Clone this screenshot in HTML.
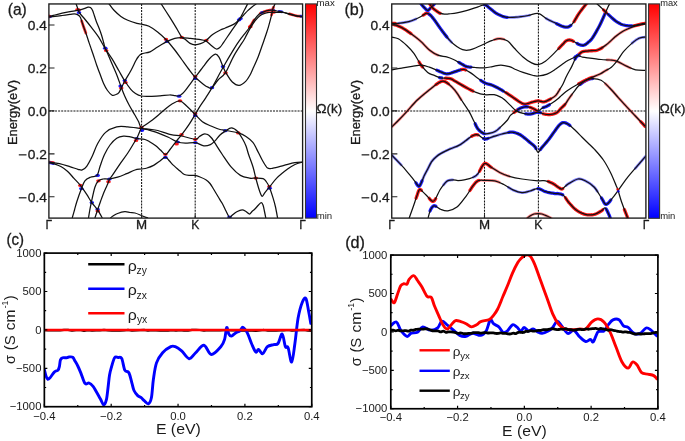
<!DOCTYPE html>
<html><head><meta charset="utf-8"><title>figure</title>
<style>
html,body{margin:0;padding:0;background:#fff;width:685px;height:441px;overflow:hidden}
svg{display:block;filter:blur(0.35px)}
text{font-family:"Liberation Sans",sans-serif;fill:#1a1a1a}
.bold text{stroke:#1a1a1a;stroke-width:0.3px}
</style></head><body>
<svg width="685" height="441" viewBox="0 0 685 441">
<rect x="0" y="0" width="685" height="441" fill="#fff"/>
<defs><clipPath id="ca"><rect x="48.9" y="3.95" width="253.70000000000002" height="214.15"/></clipPath>
<clipPath id="cb"><rect x="391.75" y="3.95" width="254.15" height="214.2"/></clipPath>
<clipPath id="cc"><rect x="44.35" y="253.1" width="267.4" height="153.6"/></clipPath>
<clipPath id="cd"><rect x="390.8" y="255.05" width="267.1" height="153.7"/></clipPath>
<linearGradient id="bwr" x1="0" y1="0" x2="0" y2="1"><stop offset="0" stop-color="#ff0000"/><stop offset="0.5" stop-color="#ffffff"/><stop offset="1" stop-color="#0000ff"/></linearGradient></defs>
<line x1="48.9" y1="110.9" x2="302.6" y2="110.9" stroke="#111" stroke-width="1.05" stroke-dasharray="2 1.07"/>
<line x1="141.6" y1="3.95" x2="141.6" y2="218.1" stroke="#111" stroke-width="1.05" stroke-dasharray="2 1.07"/>
<line x1="195.2" y1="3.95" x2="195.2" y2="218.1" stroke="#111" stroke-width="1.05" stroke-dasharray="2 1.07"/>
<g clip-path="url(#ca)" fill="none" stroke-linecap="round" stroke-linejoin="round">
<path d="M249.5 27.5 L250.12 26.57 L250.71 25.6 L251.3 24.62 L251.88 23.62 L252.46 22.64 L253.03 21.68 L253.61 20.76 L254.2 19.9" stroke="#ff1a1a" stroke-width="2.8" opacity="0.9"/>
<path d="M260.18 13.37 L260.77 13.05 L261.35 12.79 L261.93 12.55 L262.52 12.34 L263.11 12.13 L263.7 11.9 L264.3 11.67 L264.92 11.44 L265.54 11.23 L266.16 11.03 L266.77 10.84 L267.37 10.67 L267.95 10.52 L268.5 10.4 L269.02 10.3 L269.5 10.21 L269.96 10.15 L270.41 10.1 L270.85 10.07 L271.31 10.06" stroke="#ff1a1a" stroke-width="2.8" opacity="0.9"/>
<path d="M261.35 12.79 L261.93 12.55 L262.52 12.34" stroke="#1a1aff" stroke-width="2.8" opacity="0.9"/>
<path d="M271.79 10.07 L272.3 10.1 L272.84 10.15 L273.39 10.24 L273.95 10.35" stroke="#1a1aff" stroke-width="2.8" opacity="0.9"/>
<path d="M279.02 11.33 L279.73 11.44 L280.45 11.55 L281.19 11.68 L281.94 11.83" stroke="#1a1aff" stroke-width="2.8" opacity="0.9"/>
<path d="M289.3 13.9 L290.22 14.16 L291.18 14.43 L292.17 14.71 L293.17 14.99 L294.16 15.26 L295.12 15.51 L296.04 15.73 L296.9 15.9 L297.73 16.03 L298.55 16.12 L299.36 16.18 L300.12 16.23" stroke="#ff1a1a" stroke-width="2.8" opacity="0.9"/>
<path d="M300.83 16.25 L301.46 16.27 L301.99 16.28 L302.4 16.3" stroke="#1a1aff" stroke-width="2.8" opacity="0.9"/>
<path d="M272.2 12.3 L272.7 12.3 L273.27 12.29 L273.89 12.29 L274.55 12.28" stroke="#ff1a1a" stroke-width="2.8" opacity="0.9"/>
<path d="M271.54 15.07 L271.75 14.11 L271.92 13.22 L272.08 12.38 L272.23 11.6 L272.38 10.86 L272.53 10.16 L272.7 9.5 L272.89 8.88 L273.08 8.31 L273.28 7.8 L273.48 7.32" stroke="#ff1a1a" stroke-width="2.8" opacity="0.9"/>
<path d="M81.65 20.98 L81.87 21.69 L82.1 22.4 L82.35 23.12 L82.6 23.86 L82.86 24.63 L83.12 25.4 L83.39 26.18 L83.66 26.96 L83.93 27.74 L84.2 28.5 L84.47 29.25 L84.75 30 L85.02 30.74 L85.3 31.48 L85.58 32.22 L85.85 32.97" stroke="#ff1a1a" stroke-width="2.8" opacity="0.9"/>
<path d="M78.67 10.1 L79.51 9.9" stroke="#ff1a1a" stroke-width="2.8" opacity="0.9"/>
<path d="M49 162.1 L49.81 162.2 L50.88 162.33 L52.15 162.47 L53.57 162.64" stroke="#ff1a1a" stroke-width="2.8" opacity="0.9"/>
<path d="M49 162.6 L49.46 162.71 L50.07 162.84 L50.8 163 L51.61 163.18 L52.46 163.38 L53.34 163.61" stroke="#1a1aff" stroke-width="2.8" opacity="0.9"/>
</g>
<g clip-path="url(#ca)">
<ellipse cx="49.8" cy="16.6" rx="2.3" ry="1.6" fill="#00f" opacity="0.9"/>
<ellipse cx="48.8" cy="16.2" rx="2.3" ry="1.6" fill="#f00" opacity="0.9"/>
<ellipse cx="77.5" cy="9.6" rx="2.3" ry="1.6" fill="#f00" opacity="0.9"/>
<ellipse cx="79" cy="12.5" rx="2.3" ry="1.6" fill="#00f" opacity="0.9"/>
<ellipse cx="105.3" cy="48.2" rx="2.3" ry="1.6" fill="#00f" opacity="0.9"/>
<ellipse cx="106.2" cy="50.5" rx="2.3" ry="1.6" fill="#f00" opacity="0.9"/>
<ellipse cx="121.2" cy="88" rx="2.3" ry="1.6" fill="#f00" opacity="0.9"/>
<ellipse cx="120.6" cy="86" rx="2.3" ry="1.6" fill="#00f" opacity="0.9"/>
<ellipse cx="124.8" cy="80.6" rx="2.3" ry="1.6" fill="#00f" opacity="0.9"/>
<ellipse cx="125.5" cy="82.5" rx="2.3" ry="1.6" fill="#f00" opacity="0.9"/>
<ellipse cx="166" cy="39.3" rx="2.3" ry="1.6" fill="#f00" opacity="0.9"/>
<ellipse cx="167" cy="41.5" rx="2.3" ry="1.6" fill="#00f" opacity="0.9"/>
<ellipse cx="181.7" cy="37.4" rx="2.3" ry="1.6" fill="#f00" opacity="0.9"/>
<ellipse cx="206.3" cy="40.3" rx="2.3" ry="1.6" fill="#f00" opacity="0.9"/>
<ellipse cx="195.2" cy="76.6" rx="2.3" ry="1.6" fill="#f00" opacity="0.9"/>
<ellipse cx="195.2" cy="78.5" rx="2.3" ry="1.6" fill="#00f" opacity="0.9"/>
<ellipse cx="179.1" cy="96.2" rx="2.3" ry="1.6" fill="#00f" opacity="0.9"/>
<ellipse cx="180" cy="100.8" rx="2.3" ry="1.6" fill="#f00" opacity="0.9"/>
<ellipse cx="195.2" cy="113.8" rx="2.3" ry="1.6" fill="#f00" opacity="0.9"/>
<ellipse cx="195.2" cy="115.6" rx="2.3" ry="1.6" fill="#00f" opacity="0.9"/>
<ellipse cx="211.9" cy="87.7" rx="2.3" ry="1.6" fill="#00f" opacity="0.9"/>
<ellipse cx="223" cy="66.6" rx="2.3" ry="1.6" fill="#00f" opacity="0.9"/>
<ellipse cx="225.5" cy="72.8" rx="2.3" ry="1.6" fill="#f00" opacity="0.9"/>
<ellipse cx="239.1" cy="19.8" rx="2.3" ry="1.6" fill="#00f" opacity="0.9"/>
<ellipse cx="250.3" cy="26.7" rx="2.3" ry="1.6" fill="#f00" opacity="0.9"/>
<ellipse cx="141.4" cy="127.6" rx="2.3" ry="1.6" fill="#f00" opacity="0.9"/>
<ellipse cx="142" cy="130.3" rx="2.3" ry="1.6" fill="#00f" opacity="0.9"/>
<ellipse cx="136.8" cy="138.5" rx="2.3" ry="1.6" fill="#00f" opacity="0.9"/>
<ellipse cx="136" cy="140.5" rx="2.3" ry="1.6" fill="#f00" opacity="0.9"/>
<ellipse cx="165.4" cy="154.3" rx="2.3" ry="1.6" fill="#f00" opacity="0.9"/>
<ellipse cx="165.4" cy="157.4" rx="2.3" ry="1.6" fill="#00f" opacity="0.9"/>
<ellipse cx="177.6" cy="142" rx="2.3" ry="1.6" fill="#00f" opacity="0.9"/>
<ellipse cx="181.5" cy="134.7" rx="2.3" ry="1.6" fill="#f00" opacity="0.9"/>
<ellipse cx="176.6" cy="144" rx="2.3" ry="1.6" fill="#f00" opacity="0.9"/>
<ellipse cx="195.3" cy="139.3" rx="2.3" ry="1.6" fill="#f00" opacity="0.9"/>
<ellipse cx="195.3" cy="142.6" rx="2.3" ry="1.6" fill="#00f" opacity="0.9"/>
<ellipse cx="225.3" cy="130.7" rx="2.3" ry="1.6" fill="#00f" opacity="0.9"/>
<ellipse cx="238.3" cy="132.9" rx="2.3" ry="1.6" fill="#f00" opacity="0.9"/>
<ellipse cx="255.8" cy="178.1" rx="2.3" ry="1.6" fill="#f00" opacity="0.9"/>
<ellipse cx="269.4" cy="186.5" rx="2.3" ry="1.6" fill="#f00" opacity="0.9"/>
<ellipse cx="269.6" cy="188.2" rx="2.3" ry="1.6" fill="#00f" opacity="0.9"/>
<ellipse cx="80.4" cy="185.4" rx="2.3" ry="1.6" fill="#f00" opacity="0.9"/>
<ellipse cx="81.3" cy="188.6" rx="2.3" ry="1.6" fill="#00f" opacity="0.9"/>
<ellipse cx="91.8" cy="202.6" rx="2.3" ry="1.6" fill="#00f" opacity="0.9"/>
<ellipse cx="97.6" cy="209.3" rx="2.3" ry="1.6" fill="#00f" opacity="0.9"/>
<ellipse cx="97.8" cy="211" rx="2.3" ry="1.6" fill="#f00" opacity="0.9"/>
<ellipse cx="97.6" cy="175.4" rx="2.3" ry="1.6" fill="#00f" opacity="0.9"/>
<ellipse cx="98.5" cy="180.8" rx="2.3" ry="1.6" fill="#f00" opacity="0.9"/>
<ellipse cx="108.5" cy="181.7" rx="2.3" ry="1.6" fill="#f00" opacity="0.9"/>
<ellipse cx="109.4" cy="179" rx="2.3" ry="1.6" fill="#00f" opacity="0.9"/>
<ellipse cx="229.5" cy="217" rx="2.3" ry="1.6" fill="#00f" opacity="0.9"/>
<ellipse cx="240.5" cy="18.5" rx="2.3" ry="1.6" fill="#00f" opacity="0.9"/>
</g>
<g clip-path="url(#ca)" fill="none" stroke="#111" stroke-width="1.25" stroke-linejoin="round">
<path d="M49 16.6C50 16.33 52.8 15.57 55 15C57.2 14.43 59.7 13.77 62.2 13.2C64.7 12.63 67.4 12.08 70 11.6C72.6 11.12 75.47 10.8 77.8 10.3C80.13 9.8 82.28 9.12 84 8.6C85.72 8.08 87.03 7.37 88.1 7.2C89.17 7.03 89.65 7.05 90.4 7.6C91.15 8.15 91.95 9.18 92.6 10.5C93.25 11.82 93.65 13.58 94.3 15.5C94.95 17.42 95.72 19.92 96.5 22C97.28 24.08 98.17 25.83 99 28C99.83 30.17 100.73 32.58 101.5 35C102.27 37.42 102.97 40.22 103.6 42.5C104.23 44.78 104.63 46.87 105.3 48.7C105.97 50.53 106.47 50.95 107.6 53.5C108.73 56.05 110.5 60.27 112.1 64C113.7 67.73 115.65 71.93 117.2 75.9C118.75 79.87 120.13 84.4 121.4 87.8C122.67 91.2 123.52 93.43 124.8 96.3C126.08 99.17 127.45 101.92 129.1 105C130.75 108.08 133.13 112.05 134.7 114.8C136.27 117.55 137.38 119.32 138.5 121.5C139.62 123.68 139.65 126.47 141.4 127.9C143.15 129.33 146.27 129.28 149 130.1C151.73 130.92 154.57 131.6 157.8 132.8C161.03 134 165.1 135.77 168.4 137.3C171.7 138.83 174.77 141.02 177.6 142C180.43 142.98 182.45 143.1 185.4 143.2C188.35 143.3 192.23 142.15 195.3 142.6C198.37 143.05 201.28 145.57 203.8 145.9C206.32 146.23 208.53 145.43 210.4 144.6C212.27 143.77 213.4 142.5 215 140.9C216.6 139.3 218.28 136.62 220 135C221.72 133.38 223.4 132.4 225.3 131.2C227.2 130 229.38 127.8 231.4 127.8C233.42 127.8 235.53 129.33 237.4 131.2C239.27 133.07 241.17 136.53 242.6 139C244.03 141.47 245 143.42 246 146C247 148.58 247.42 150.97 248.6 154.5C249.78 158.03 251.9 163.27 253.1 167.2C254.3 171.13 254.73 174.17 255.8 178.1C256.87 182.03 258.43 187.77 259.5 190.8C260.57 193.83 261.3 196 262.2 196.3C263.1 196.6 263.7 194.12 264.9 192.6C266.1 191.08 267.43 189.62 269.4 187.2C271.37 184.78 273.67 181.13 276.7 178.1C279.73 175.07 284.55 171.27 287.6 169C290.65 166.73 292.5 165.65 295 164.5C297.5 163.35 301.33 162.5 302.6 162.1"/>
<path d="M49 16.9C50 16.82 52.8 16.63 55 16.4C57.2 16.17 59.7 15.83 62.2 15.5C64.7 15.17 67.98 14.68 70 14.4C72.02 14.12 73.05 13.77 74.3 13.8C75.55 13.83 76.5 14.03 77.5 14.6C78.5 15.17 79.53 15.9 80.3 17.2C81.07 18.5 81.45 20.52 82.1 22.4C82.75 24.28 83.48 26.48 84.2 28.5C84.92 30.52 85.68 32.42 86.4 34.5C87.12 36.58 87.78 38.85 88.5 41C89.22 43.15 89.95 45.23 90.7 47.4C91.45 49.57 91.98 50.98 93 54C94.02 57.02 95.63 62.17 96.8 65.5C97.97 68.83 98.87 71 100 74C101.13 77 102.35 80.75 103.6 83.5C104.85 86.25 106.08 88.55 107.5 90.5C108.92 92.45 110.68 94.53 112.1 95.2C113.52 95.87 114.87 94.93 116 94.5C117.13 94.07 118 93.72 118.9 92.6C119.8 91.48 120.42 89.73 121.4 87.8C122.38 85.87 123.23 83.83 124.8 81C126.37 78.17 128.95 74.22 130.8 70.8C132.65 67.38 134.62 62.88 135.9 60.5C137.18 58.12 137.57 57.62 138.5 56.5C139.43 55.38 139.58 54.58 141.5 53.8C143.42 53.02 147.32 52.93 150 51.8C152.68 50.67 154.75 48.73 157.6 47C160.45 45.27 164.23 42.85 167.1 41.4C169.97 39.95 172.37 38.93 174.8 38.3C177.23 37.67 179.12 37.58 181.7 37.6C184.28 37.62 187.42 38.1 190.3 38.4C193.18 38.7 196.4 38.97 199 39.4C201.6 39.83 203.9 40.03 205.9 41C207.9 41.97 209.27 43.87 211 45.2C212.73 46.53 214.8 48.65 216.3 49C217.8 49.35 218.8 48.37 220 47.3C221.2 46.23 221.7 45.18 223.5 42.6C225.3 40.02 228.2 35.6 230.8 31.8C233.4 28 236.85 23.38 239.1 19.8C241.35 16.22 242.85 13 244.3 10.3C245.75 7.6 247.22 4.72 247.8 3.6"/>
<path d="M76 3.6C76.3 4.43 77.22 7.05 77.8 8.6C78.38 10.15 78.35 11.17 79.5 12.9C80.65 14.63 82.68 16.55 84.7 19C86.72 21.45 89.3 24.63 91.6 27.6C93.9 30.57 96.22 33.28 98.5 36.8C100.78 40.32 103.03 45.02 105.3 48.7C107.57 52.38 109.83 55.22 112.1 58.9C114.37 62.58 116.78 67.12 118.9 70.8C121.02 74.48 122.82 77.92 124.8 81C126.78 84.08 129.02 87.22 130.8 89.3C132.58 91.38 133.75 92.38 135.5 93.5C137.25 94.62 138.88 95.53 141.3 96C143.72 96.47 146.88 96.33 150 96.3C153.12 96.27 156.72 96.02 160 95.8C163.28 95.58 167.2 95.03 169.7 95C172.2 94.97 173.43 95.45 175 95.6C176.57 95.75 177.85 96.25 179.1 95.9C180.35 95.55 181.48 94.37 182.5 93.5C183.52 92.63 183.9 92.32 185.2 90.7C186.5 89.08 188.63 86.05 190.3 83.8C191.97 81.55 193.47 79.5 195.2 77.2C196.93 74.9 199.3 71.83 200.7 70C202.1 68.17 202.22 68 203.6 66.2C204.98 64.4 207.05 61.2 209 59.2C210.95 57.2 213.63 54.53 215.3 54.2C216.97 53.87 217.72 55.13 219 57.2C220.28 59.27 221.78 63.9 223 66.6C224.22 69.3 224.75 70.83 226.3 73.4C227.85 75.97 230.17 80 232.3 82C234.43 84 236.83 85.55 239.1 85.4C241.37 85.25 244.08 82.83 245.9 81.1C247.72 79.37 248.87 76.98 250 75C251.13 73.02 251.35 72.22 252.7 69.2C254.05 66.18 256.55 60.77 258.1 56.9C259.65 53.03 260.98 48.85 262 46C263.02 43.15 263.45 41.97 264.2 39.8C264.95 37.63 265.78 35.2 266.5 33C267.22 30.8 267.7 29.42 268.5 26.6C269.3 23.78 270.6 18.95 271.3 16.1C272 13.25 272.22 11.23 272.7 9.5C273.18 7.77 273.8 6.68 274.2 5.7C274.6 4.72 274.95 3.95 275.1 3.6"/>
<path d="M108.8 3.6C109.67 4.72 111.98 8.17 114 10.3C116.02 12.43 118.6 14.73 120.9 16.4C123.2 18.07 125.13 19.13 127.8 20.3C130.47 21.47 134.58 22.75 136.9 23.4C139.22 24.05 139.68 23.73 141.7 24.2C143.72 24.67 146.35 24.92 149 26.2C151.65 27.48 154.73 29.65 157.6 31.9C160.47 34.15 163.33 36.68 166.2 39.7C169.07 42.72 172.22 46.7 174.8 50C177.38 53.3 179.4 56.33 181.7 59.5C184 62.67 186.35 66.05 188.6 69C190.85 71.95 192.7 74.63 195.2 77.2C197.7 79.77 201.47 82.73 203.6 84.4C205.73 86.07 206.62 86.62 208 87.2C209.38 87.78 210.23 89.1 211.9 87.9C213.57 86.7 215.73 82.55 218 80C220.27 77.45 222.83 76.67 225.5 72.6C228.17 68.53 230.88 61.12 234 55.6C237.12 50.08 242.25 42.67 244.2 39.5C246.15 36.33 244.67 38.53 245.7 36.6C246.73 34.67 248.82 30.57 250.4 27.9C251.98 25.23 253.62 22.63 255.2 20.6C256.78 18.57 258.32 16.92 259.9 15.7C261.48 14.48 263.12 13.85 264.7 13.3C266.28 12.75 268.07 12.57 269.4 12.4C270.73 12.23 271.27 12.32 272.7 12.3C274.13 12.28 276.28 12.27 278 12.3C279.72 12.33 281.12 12.18 283 12.5C284.88 12.82 286.98 13.6 289.3 14.2C291.62 14.8 294.72 15.7 296.9 16.1C299.08 16.5 301.48 16.52 302.4 16.6"/>
<path d="M72.2 218C72.58 216.67 73.73 212.72 74.5 210C75.27 207.28 75.67 205.2 76.8 201.7C77.93 198.2 79.95 192.48 81.3 189C82.65 185.52 83.38 182.77 84.9 180.8C86.42 178.83 88.63 177.97 90.4 177.2C92.17 176.43 94.3 176.65 95.5 176.2C96.7 175.75 96.78 176.32 97.6 174.5C98.42 172.68 99.25 168.63 100.4 165.3C101.55 161.97 102.9 157.88 104.5 154.5C106.1 151.12 107.97 147.72 110 145C112.03 142.28 114.45 139.68 116.7 138.2C118.95 136.72 121.23 136.33 123.5 136.1C125.77 135.87 128.15 136.42 130.3 136.8C132.45 137.18 133.95 137.95 136.4 138.4C138.85 138.85 142.73 138.9 145 139.5C147.27 140.1 148.27 140.98 150 142C151.73 143.02 153.65 144.27 155.4 145.6C157.15 146.93 158.83 148.52 160.5 150C162.17 151.48 163.82 154.58 165.4 154.5C166.98 154.42 168.48 151.32 170 149.5C171.52 147.68 173.15 145.35 174.5 143.6C175.85 141.85 176.9 140.48 178.1 139C179.3 137.52 179.95 137 181.7 134.7C183.45 132.4 186.35 128.57 188.6 125.2C190.85 121.83 193.47 117.38 195.2 114.5C196.93 111.62 197.22 110.72 199 107.9C200.78 105.08 203.75 100.93 205.9 97.6C208.05 94.27 209.05 92.92 211.9 87.9C214.75 82.88 219.32 74.02 223 67.5C226.68 60.98 231.17 53.42 234 48.8C236.83 44.18 238.3 42.2 240 39.8C241.7 37.4 242.62 36.45 244.2 34.4C245.78 32.35 247.83 29.92 249.5 27.5C251.17 25.08 252.62 22.12 254.2 19.9C255.78 17.68 257.42 15.53 259 14.2C260.58 12.87 262.12 12.53 263.7 11.9C265.28 11.27 267.07 10.7 268.5 10.4C269.93 10.1 270.88 10 272.3 10.1C273.72 10.2 275.27 10.68 277 11C278.73 11.32 280.65 11.52 282.7 12C284.75 12.48 286.93 13.25 289.3 13.9C291.67 14.55 294.72 15.5 296.9 15.9C299.08 16.3 301.48 16.23 302.4 16.3"/>
<path d="M161 3.6C162.45 5.87 167.1 13.07 169.7 17.2C172.3 21.33 174.6 25.08 176.6 28.4C178.6 31.72 180.25 35.27 181.7 37.1C183.15 38.93 183.9 38.35 185.3 39.4C186.7 40.45 188.48 42.5 190.1 43.4C191.72 44.3 193.25 44.75 195 44.8C196.75 44.85 198.73 44.43 200.6 43.7C202.47 42.97 204.2 41.93 206.2 40.4C208.2 38.87 210.23 36.23 212.6 34.5C214.97 32.77 218.28 31.08 220.4 30C222.52 28.92 223.03 28.98 225.3 28C227.57 27.02 231.7 25.47 234 24.1C236.3 22.73 237.52 21.28 239.1 19.8C240.68 18.32 242.05 16.73 243.5 15.2C244.95 13.67 246.38 11.97 247.8 10.6C249.22 9.23 250.53 8.17 252 7C253.47 5.83 255.83 4.17 256.6 3.6"/>
<path d="M94.9 218C95.35 216.65 96.67 212.65 97.6 209.9C98.53 207.15 99.58 204.08 100.5 201.5C101.42 198.92 101.98 197.15 103.1 194.4C104.22 191.65 106.12 187.53 107.2 185C108.28 182.47 108.55 181.08 109.6 179.2C110.65 177.32 111.78 176.22 113.5 173.7C115.22 171.18 117.52 167.55 119.9 164.1C122.28 160.65 125.43 156.57 127.8 153C130.17 149.43 132.52 145.33 134.1 142.7C135.68 140.07 136.08 139.62 137.3 137.2C138.52 134.78 139.95 130.32 141.4 128.2C142.85 126.08 144.17 125.87 146 124.5C147.83 123.13 150.32 121.58 152.4 120C154.48 118.42 156.48 116.72 158.5 115C160.52 113.28 162.25 111.53 164.5 109.7C166.75 107.87 169.42 105.45 172 104C174.58 102.55 177.52 100.63 180 101C182.48 101.37 184.37 103.95 186.9 106.2C189.43 108.45 192.62 111.92 195.2 114.5C197.78 117.08 199.77 119.78 202.4 121.7C205.03 123.62 208.07 124.7 211 126C213.93 127.3 217.62 128.78 220 129.5C222.38 130.22 222.25 129.73 225.3 130.3C228.35 130.87 234.85 131.88 238.3 132.9C241.75 133.92 243.57 134.82 246 136.4C248.43 137.98 251.12 140.28 252.9 142.4C254.68 144.52 255.15 146.17 256.7 149.1C258.25 152.03 260.38 156.83 262.2 160C264.02 163.17 265.78 166.75 267.6 168.1C269.42 169.45 270.37 168.55 273.1 168.1C275.83 167.65 280.38 166.3 284 165.4C287.62 164.5 291.7 163.25 294.8 162.7C297.9 162.15 301.3 162.2 302.6 162.1"/>
<path d="M49 162.1C50.75 162.35 55.93 162.8 59.5 163.6C63.07 164.4 67.32 165.95 70.4 166.9C73.48 167.85 76.03 168.8 78 169.3C79.97 169.8 80.75 170.4 82.2 169.9C83.65 169.4 85.03 168.57 86.7 166.3C88.37 164.03 90.37 160.1 92.2 156.3C94.03 152.5 95.47 147.48 97.7 143.5C99.93 139.52 102.43 135.17 105.6 132.4C108.77 129.63 113 127.82 116.7 126.9C120.4 125.98 123.7 126.63 127.8 126.9C131.9 127.17 137.6 128.1 141.3 128.5C145 128.9 147.25 128.97 150 129.3C152.75 129.63 154.3 129.6 157.8 130.5C161.3 131.4 167.05 133.78 171 134.7C174.95 135.62 177.45 135.23 181.5 136C185.55 136.77 192.3 139.22 195.3 139.3C198.3 139.38 198.08 137.37 199.5 136.5C200.92 135.63 202.55 134.47 203.8 134.1C205.05 133.73 206.12 134.08 207 134.3C207.88 134.52 208.27 134.7 209.1 135.4C209.93 136.1 211.02 137.2 212 138.5C212.98 139.8 213.28 140.53 215 143.2C216.72 145.87 219.58 150.5 222.3 154.5C225.02 158.5 228.28 163.72 231.3 167.2C234.32 170.68 237.37 173.58 240.4 175.4C243.43 177.22 246.93 177.65 249.5 178.1C252.07 178.55 253.53 178.02 255.8 178.1C258.07 178.18 261.32 177.95 263.1 178.6C264.88 179.25 265.45 180.57 266.5 182C267.55 183.43 268.3 184.52 269.4 187.2C270.5 189.88 272.08 194.8 273.1 198.1C274.12 201.4 274.75 203.68 275.5 207C276.25 210.32 277.25 216.17 277.6 218"/>
<path d="M49 162.6C50 162.85 52.95 163.4 55 164.1C57.05 164.8 59.18 165.57 61.3 166.8C63.42 168.03 65.58 169.57 67.7 171.5C69.82 173.43 71.88 176.08 74 178.4C76.12 180.72 78.28 182.73 80.4 185.4C82.52 188.07 84.8 191.53 86.7 194.4C88.6 197.27 89.98 200.02 91.8 202.6C93.62 205.18 96.02 207.63 97.6 209.9C99.18 212.17 100.52 214.85 101.3 216.2C102.08 217.55 102.13 217.7 102.3 218"/>
<path d="M88.5 218C88.72 216.67 89.33 212.57 89.8 210C90.27 207.43 90.45 206.4 91.3 202.6C92.15 198.8 93.7 190.83 94.9 187.2C96.1 183.57 97.13 182.17 98.5 180.8C99.87 179.43 101.28 179.3 103.1 179C104.92 178.7 106.98 179.3 109.4 179C111.82 178.7 114.72 178.1 117.6 177.2C120.48 176.3 123.8 174.8 126.7 173.6C129.6 172.4 132.55 170.77 135 170C137.45 169.23 139.4 169.33 141.4 169C143.4 168.67 144.97 168.6 147 168C149.03 167.4 151.43 166.57 153.6 165.4C155.77 164.23 158.03 162.37 160 161C161.97 159.63 163.82 157.2 165.4 157.2C166.98 157.2 168.15 159.63 169.5 161C170.85 162.37 171.75 163.73 173.5 165.4C175.25 167.07 178.18 169.48 180 171C181.82 172.52 182.73 173.77 184.4 174.5C186.07 175.23 188.23 175.25 190 175.4C191.77 175.55 193.33 175.13 195 175.4C196.67 175.67 198.13 176.25 200 177C201.87 177.75 204.53 178.82 206.2 179.9C207.87 180.98 208.78 181.98 210 183.5C211.22 185.02 212.17 186.83 213.5 189C214.83 191.17 216.92 194.68 218 196.5C219.08 198.32 219.28 198.73 220 199.9C220.72 201.07 221.3 201.65 222.3 203.5C223.3 205.35 224.8 208.58 226 211C227.2 213.42 228.92 216.83 229.5 218"/>
<path d="M110.3 218C110.75 217.67 111.78 216.75 113 216C114.22 215.25 115.63 214.22 117.6 213.5C119.57 212.78 122.73 211.87 124.8 211.7C126.87 211.53 128.3 212.28 130 212.5C131.7 212.72 133.1 212.5 135 213C136.9 213.5 139.57 214.77 141.4 215.5C143.23 216.23 144.88 216.98 146 217.4C147.12 217.82 147.75 217.9 148.1 218"/>
<path d="M229.5 218C230.08 217.42 231.78 215.55 233 214.5C234.22 213.45 235.27 212.47 236.8 211.7C238.33 210.93 240.67 209.93 242.2 209.9C243.73 209.87 244.78 210.82 246 211.5C247.22 212.18 248.5 214 249.5 214C250.5 214 251.1 212.33 252 211.5C252.9 210.67 253.82 210.08 254.9 209C255.98 207.92 257.43 206.07 258.5 205C259.57 203.93 260.53 202.55 261.3 202.6C262.07 202.65 262.55 203.73 263.1 205.3C263.65 206.87 264.15 209.88 264.6 212C265.05 214.12 265.6 217 265.8 218"/>
</g>
<rect x="48.9" y="3.95" width="253.70000000000002" height="214.15" fill="none" stroke="#1a1a1a" stroke-width="1.35"/>
<path d="M48.9 25 h5.6 M48.9 67.95 h5.6 M48.9 110.9 h5.6 M48.9 153.85 h5.6 M48.9 196.8 h5.6 M141.6 218.1 v-3.5 M195.2 218.1 v-3.5" stroke="#222" stroke-width="1.1" fill="none"/>
<rect x="305.5" y="3.9" width="11" height="214.2" fill="url(#bwr)" stroke="#333" stroke-width="1.1"/>
<line x1="391.75" y1="110.9" x2="645.9" y2="110.9" stroke="#111" stroke-width="1.05" stroke-dasharray="2 1.07"/>
<line x1="484.5" y1="3.95" x2="484.5" y2="218.1" stroke="#111" stroke-width="1.05" stroke-dasharray="2 1.07"/>
<line x1="538.4" y1="3.95" x2="538.4" y2="218.1" stroke="#111" stroke-width="1.05" stroke-dasharray="2 1.07"/>
<g clip-path="url(#cb)" fill="none" stroke-linecap="round" stroke-linejoin="round">
<path d="M391.8 23.3 L392.27 23.31 L392.88 23.34 L393.59 23.37 L394.4 23.41 L395.29 23.42" stroke="#ff1a1a" stroke-width="3.3"/>
<path d="M398.3 23.3 L399.43 23.18 L400.7 23.02 L402.05 22.83 L403.45 22.61 L404.86 22.38 L406.23 22.13 L407.52 21.87 L408.7 21.6 L409.78 21.32 L410.8 21.01 L411.77 20.69 L412.69 20.35 L413.57 20.01 L414.41 19.66 L415.22 19.33 L416 19" stroke="#1a1aff" stroke-width="2.7" opacity="0.55"/>
<path d="M423.3 15.03 L423.64 14.81 L424 14.6 L424.36 14.37 L424.72 14.11 L425.06 13.85 L425.41 13.59 L425.77 13.37 L426.13 13.21 L426.5 13.11 L426.9 13.1 L427.32 13.18 L427.75 13.34 L428.19 13.56 L428.65 13.83" stroke="#ff1a1a" stroke-width="3.3"/>
<path d="M429.11 14.15 L429.58 14.51 L430.04 14.89 L430.5 15.3 L430.96 15.74 L431.42 16.23 L431.88 16.76 L432.35 17.32 L432.82 17.9 L433.28 18.5 L433.74 19.1 L434.2 19.7 L434.65 20.3 L435.1 20.92 L435.55 21.56 L436 22.2 L436.45 22.85 L436.9 23.5 L437.35 24.15 L437.8 24.8 L438.26 25.45 L438.72 26.11 L439.19 26.77 L439.66 27.44 L440.13 28.1 L440.59 28.75 L441.05 29.38 L441.5 30 L441.93 30.59 L442.35 31.16 L442.77 31.72 L443.18 32.26 L443.59 32.81 L444.01 33.36 L444.44 33.92 L444.9 34.5 L445.38 35.1 L445.87 35.73 L446.37 36.36 L446.88 37" stroke="#1a1aff" stroke-width="3.3"/>
<path d="M446.37 36.36 L446.88 37 L447.4 37.64 L447.93 38.27 L448.46 38.9 L449 39.5 L449.53 40.09 L450.05 40.66 L450.57 41.22 L451.1 41.78 L451.65 42.33" stroke="#1a1aff" stroke-width="2.7" opacity="0.55"/>
<path d="M494.3 39.66 L495.25 39.35 L496.2 39.08 L497.15 38.86 L498.1 38.69 L499.05 38.6 L500 38.6 L500.96 38.68 L501.94 38.82 L502.92 39.02 L503.91 39.29" stroke="#ff1a1a" stroke-width="2.7" opacity="0.55"/>
<path d="M558.85 48.4 L560.05 47.13 L561.16 45.94 L562.16 44.88 L563 44 L563.65 43.31 L564.15 42.75 L564.52 42.32 L564.81 41.98 L565.06 41.7 L565.31 41.46 L565.61 41.24 L566 41 L566.45 40.76 L566.92 40.53 L567.41 40.34 L567.92 40.17 L568.44 40.05 L568.98 39.98 L569.53 39.96 L570.1 40 L570.7 40.12 L571.34 40.32 L572 40.59 L572.67 40.89 L573.34 41.23" stroke="#ff1a1a" stroke-width="3.3"/>
<path d="M577.11 43.44 L577.55 43.75 L578 44.04 L578.48 44.29 L579 44.5 L579.57 44.69 L580.17 44.87 L580.79 45.03 L581.43 45.16 L582.07 45.26 L582.71 45.3 L583.32 45.29 L583.9 45.2 L584.45 45.04 L584.97 44.81 L585.48 44.52 L585.97 44.18 L586.47 43.8 L586.97 43.39 L587.47 42.95 L588 42.5 L588.53 42.07 L589.04 41.66 L589.55 41.24 L590.08 40.78 L590.62 40.25 L591.2 39.61 L591.82 38.84 L592.5 37.9 L593.26 36.75 L594.1 35.4 L594.99 33.91 L595.91 32.31 L596.83 30.67 L597.74 29.02 L598.6 27.41 L599.4 25.9 L600.14 24.44 L600.86 22.96 L601.55 21.49 L602.22 20.04 L602.86 18.62 L603.47 17.24 L604.05 15.93 L604.6 14.7 L605.12 13.53 L605.62 12.4" stroke="#1a1aff" stroke-width="3.3"/>
<path d="M391.8 23.8 L392.57 24.07 L393.59 24.41 L394.8 24.81 L396.16 25.27 L397.59 25.78 L399.04 26.34 L400.47 26.95 L401.8 27.6 L403.08 28.31 L404.39 29.11 L405.71 29.96 L407.03 30.86 L408.34 31.78 L409.63 32.7 L410.89 33.62" stroke="#ff1a1a" stroke-width="3.3"/>
<path d="M412.1 34.5 L413.26 35.35 L414.39 36.19 L415.48 37.01 L416.56 37.84 L417.62 38.69 L418.67 39.56 L419.73 40.46 L420.8 41.4 L421.88 42.42 L422.96 43.51 L424.03 44.65 L425.11 45.81 L426.18 46.95 L427.25 48.05 L428.33 49.08 L429.4 50 L430.47 50.84 L431.55 51.62 L432.62 52.35 L433.7 53.03 L434.77 53.66 L435.85 54.23 L436.93 54.74 L438 55.2" stroke="#ff1a1a" stroke-width="2.7" opacity="0.55"/>
<path d="M458.86 62.44 L459.92 63.05 L460.91 63.61 L461.8 64.1 L462.57 64.52 L463.22 64.91 L463.8 65.26 L464.34 65.58 L464.88 65.87 L465.46 66.14 L466.12 66.38 L466.9 66.6 L467.79 66.79 L468.77 66.95 L469.8 67.08 L470.89 67.19" stroke="#1a1aff" stroke-width="3.3"/>
<path d="M575.02 57.06 L576.07 56.53 L577 56 L577.8 55.46 L578.49 54.89" stroke="#1a1aff" stroke-width="3.3"/>
<path d="M579.1 54.31 L579.66 53.74 L580.21 53.2 L580.78 52.7 L581.4 52.26 L582.1 51.9 L582.86 51.63 L583.66 51.43 L584.48 51.29 L585.33 51.2 L586.2 51.13 L587.11 51.07 L588.04 51 L589 50.9 L590 50.81 L591.05 50.77 L592.14 50.74 L593.24 50.71 L594.37 50.65 L595.49 50.52 L596.6 50.32 L597.7 50 L598.78 49.57 L599.86 49.06 L600.93 48.47 L602.01 47.82" stroke="#ff1a1a" stroke-width="3.3"/>
<path d="M603.08 47.12 L604.15 46.38 L605.23 45.6 L606.3 44.8 L607.39 43.94 L608.51 42.98 L609.63 41.96 L610.76 40.91 L611.86 39.87 L612.93 38.87 L613.94 37.93 L614.9 37.1 L615.78 36.37 L616.6 35.7 L617.38 35.09 L618.11 34.52 L618.83 33.99 L619.54 33.48 L620.26 32.99 L621 32.5 L621.74 32.03 L622.45 31.61 L623.14 31.21 L623.84 30.83 L624.56 30.45 L625.32 30.08 L626.13 29.7 L627 29.3 L627.94 28.87 L628.95 28.43 L630 27.97 L631.08 27.51 L632.19 27.07 L633.33 26.64 L634.46 26.25 L635.6 25.9 L636.81 25.59 L638.13 25.3 L639.51 25.03" stroke="#ff1a1a" stroke-width="2.7" opacity="0.55"/>
<path d="M421.1 4 L421.32 4.26 L421.6 4.6 L421.94 5 L422.32 5.46 L422.73 5.93 L423.16 6.41 L423.58 6.87 L424 7.3 L424.42 7.73 L424.87 8.22 L425.33 8.72 L425.8 9.21 L426.27 9.65 L426.73 10.02 L427.18 10.28 L427.6 10.4 L427.99 10.37 L428.36 10.22 L428.7 9.96 L429.04 9.63 L429.38 9.24 L429.74 8.83 L430.1 8.4 L430.5 8 L430.95 7.57 L431.46 7.06 L431.99 6.51 L432.53 5.95 L433.05 5.41 L433.52 4.92 L433.91 4.5 L434.2 4.2" stroke="#1a1aff" stroke-width="3.3"/>
<path d="M429.8 4 L430.02 4.32 L430.3 4.74 L430.64 5.26 L431.02 5.82 L431.43 6.4 L431.85 6.98 L432.28 7.53 L432.7 8 L433.12 8.42 L433.57 8.82 L434.03 9.19 L434.51 9.56 L434.98 9.9 L435.46 10.24 L435.94 10.57 L436.4 10.9 L436.85 11.23 L437.29 11.55 L437.72 11.86 L438.16 12.17 L438.6 12.46 L439.05 12.73 L439.51 12.98 L440 13.2" stroke="#ff1a1a" stroke-width="3.3"/>
<path d="M484.7 4.8 L485.44 4.98 L486.13 5.3 L486.79 5.73 L487.44 6.24 L488.09 6.81 L488.75 7.41 L489.45 8.02 L490.2 8.6 L490.98 9.2 L491.78 9.84 L492.61 10.53 L493.45 11.22 L494.32 11.92 L495.22 12.59 L496.14 13.23 L497.1 13.8 L498.09 14.33 L499.11 14.86 L500.16 15.36 L501.24 15.83 L502.34 16.25 L503.47 16.63 L504.62 16.95 L505.8 17.2 L507 17.37" stroke="#1a1aff" stroke-width="3.3"/>
<path d="M508.22 17.48 L509.47 17.52 L510.74 17.52 L512.04 17.47 L513.36 17.4 L514.72 17.3 L516.1 17.2 L517.54 17.07 L519.05 16.9 L520.6 16.7 L522.17 16.48 L523.74 16.24 L525.28 15.99 L526.78 15.74 L528.2 15.5 L529.56 15.2" stroke="#1a1aff" stroke-width="2.7" opacity="0.55"/>
<path d="M546 18.31 L547.1 19 L548.21 19.61 L549.35 20.2 L550.49 20.77 L551.62 21.32 L552.73 21.85 L553.81 22.35 L554.83 22.84 L555.8 23.3" stroke="#1a1aff" stroke-width="2.7" opacity="0.55"/>
<path d="M556.71 23.74 L557.56 24.17 L558.38 24.57 L559.16 24.96 L559.9 25.31 L560.62 25.64 L561.32 25.94 L562 26.2 L562.66 26.43 L563.29 26.64 L563.89 26.81 L564.48 26.96 L565.03 27.07 L565.57 27.15 L566.09 27.19 L566.6 27.2 L567.08 27.17 L567.53 27.11 L567.96 27.02 L568.37 26.89 L568.77 26.72 L569.17 26.52 L569.58 26.28 L570 26 L570.42 25.7 L570.83 25.39" stroke="#1a1aff" stroke-width="3.3"/>
<path d="M574.07 21.55 L574.68 20.56 L575.33 19.47 L575.99 18.31 L576.68 17.12 L577.36 15.95 L578.04 14.83 L578.7 13.8 L579.37 12.83 L580.06 11.87 L580.77 10.92 L581.47 10.01 L582.15 9.13 L582.79 8.32 L583.38 7.57 L583.9 6.9 L584.36 6.31 L584.77 5.79 L585.15 5.32 L585.47 4.92 L585.76 4.57 L586.01 4.27 L586.23 4.01 L586.4 3.8" stroke="#ff1a1a" stroke-width="3.3"/>
<path d="M603.49 9.88 L604.06 10.42 L604.69 11.02 L605.4 11.7 L606.23 12.49" stroke="#ff1a1a" stroke-width="3.3"/>
<path d="M608.21 14.38 L609.27 15.39 L610.35 16.4 L611.38 17.37 L612.35 18.25 L613.2 19 L613.94 19.63 L614.59 20.17 L615.19 20.63 L615.74 21.05 L616.28 21.43 L616.82 21.78 L617.39 22.14 L618 22.5 L618.63 22.87 L619.25 23.23 L619.88 23.58 L620.51 23.91 L621.18 24.22 L621.89 24.51 L622.66 24.77 L623.5 25 L624.43 25.21 L625.43 25.4 L626.49 25.57 L627.6 25.72 L628.73 25.83 L629.87 25.9 L631 25.93 L632.1 25.9" stroke="#1a1aff" stroke-width="3.3"/>
<path d="M634.37 25.62 L635.55 25.38 L636.72 25.11 L637.86 24.82 L638.93 24.54 L639.92 24.3 L640.8 24.1 L641.58 23.95 L642.29 23.81 L642.92 23.69 L643.49 23.59 L644 23.5 L644.43 23.42 L644.8 23.35" stroke="#ff1a1a" stroke-width="3.3"/>
<path d="M419.08 62.04 L419.94 63.44 L420.8 64.7 L421.67 65.87 L422.55 66.99" stroke="#ff1a1a" stroke-width="3.3"/>
<path d="M439.61 77.56 L440.6 77.8 L441.69 77.97" stroke="#1a1aff" stroke-width="3.3"/>
<path d="M445.47 78.21 L446.76 78.25 L447.99 78.32 L449.11 78.43 L450.1 78.6 L450.9 78.81 L451.52 79.03 L452.04 79.26 L452.51 79.53 L452.98 79.84 L453.51 80.2 L454.17 80.61 L455 81.1 L456.02 81.68 L457.18 82.35 L458.44 83.1 L459.77 83.89 L461.14 84.7 L462.53 85.5 L463.89 86.28 L465.2 87 L466.48 87.69 L467.77 88.39 L469.06 89.08 L470.36 89.76 L471.64 90.41 L472.91 91.02" stroke="#ff1a1a" stroke-width="3.3"/>
<path d="M525.78 113.87 L526.69 113.97 L527.61 114.03 L528.54 114.06 L529.46 114.05 L530.4 114 L531.36 113.87 L532.34 113.63 L533.34 113.34 L534.34 113.03 L535.33 112.72 L536.29 112.45 L537.22 112.27 L538.1 112.2 L538.92 112.26 L539.69 112.43 L540.43 112.67" stroke="#1a1aff" stroke-width="3.3"/>
<path d="M543.26 113.81 L544 114 L544.77 114.14 L545.54 114.27 L546.33 114.38 L547.12 114.47 L547.91 114.54 L548.71 114.57 L549.5 114.56 L550.3 114.5 L551.11 114.4 L551.94 114.28 L552.78 114.12 L553.61 113.92 L554.43 113.68 L555.23 113.4 L555.99 113.07 L556.7 112.7 L557.36 112.25 L557.98 111.72 L558.56 111.14 L559.12 110.51 L559.65 109.87 L560.18 109.25 L560.69 108.65 L561.2 108.1 L561.7 107.62 L562.17 107.19 L562.63 106.78 L563.08 106.39 L563.52 105.98 L563.97 105.55 L564.42 105.06 L564.9 104.5" stroke="#ff1a1a" stroke-width="3.3"/>
<path d="M565.39 103.87 L565.89 103.17 L566.39 102.43 L566.9 101.66 L567.42 100.86 L567.94 100.06 L568.47 99.27 L569 98.5 L569.54 97.74 L570.1 96.98 L570.66 96.21 L571.23 95.44 L571.79 94.68" stroke="#ff1a1a" stroke-width="2.7" opacity="0.55"/>
<path d="M580.03 84.51 L580.52 84.1 L581.03 83.7 L581.55 83.3 L582.1 82.9 L582.67 82.49 L583.25 82.09 L583.85 81.7 L584.46 81.31 L585.08 80.95 L585.71 80.6 L586.35 80.29 L587 80 L587.64 79.73 L588.26 79.47 L588.88 79.23 L589.52 79.01 L590.18 78.83 L590.89 78.7 L591.66 78.62 L592.5 78.6" stroke="#1a1aff" stroke-width="3.3"/>
<path d="M605.4 83.66 L606.48 84.71 L607.55 85.8 L608.62 86.91 L609.7 88 L610.77 89.11 L611.85 90.27 L612.92 91.47 L613.99 92.69 L615.07 93.92 L616.14 95.16 L617.22 96.39 L618.3 97.6 L619.38 98.8 L620.47 99.99 L621.56 101.19 L622.65 102.38 L623.74 103.57 L624.83 104.76 L625.92 105.93 L627 107.1 L628.07 108.25 L629.14 109.38 L630.19 110.5 L631.25 111.61 L632.31 112.73 L633.39 113.86 L634.48 115.02 L635.6 116.2 L636.81 117.48 L638.13 118.89 L639.51 120.36" stroke="#ff1a1a" stroke-width="2.7" opacity="0.55"/>
<path d="M640.89 121.82 L642.19 123.21 L643.37 124.46 L644.36 125.51 L645.1 126.3" stroke="#ff1a1a" stroke-width="3.3"/>
<path d="M436.92 70.27 L438 70.7 L439.07 71.14 L440.15 71.63 L441.23 72.12 L442.3 72.61 L443.38 73.04 L444.45 73.41 L445.53 73.67 L446.6 73.8 L447.7 73.77 L448.84 73.61 L449.99 73.34 L451.14 72.99 L452.25 72.61 L453.32 72.23 L454.31 71.88 L455.2 71.6 L455.99 71.36 L456.68 71.13 L457.3 70.91 L457.87 70.69 L458.4 70.49 L458.92 70.31 L459.45 70.14 L460 70 L460.55 69.86 L461.07 69.71 L461.57 69.57" stroke="#1a1aff" stroke-width="3.3"/>
<path d="M462.08 69.46 L462.58 69.38 L463.12 69.35 L463.68 69.38 L464.3 69.5 L464.96 69.7 L465.66 69.97" stroke="#ff1a1a" stroke-width="3.3"/>
<path d="M480.84 80.41 L481.81 81.08 L482.77 81.71 L483.74 82.29 L484.7 82.8 L485.65 83.22 L486.6 83.57 L487.55 83.85 L488.49 84.1 L489.45 84.34 L490.42 84.61 L491.4 84.92 L492.4 85.3 L493.41 85.74 L494.43 86.2 L495.46 86.69 L496.51 87.21 L497.57 87.76 L498.65 88.34 L499.76 88.95 L500.9 89.6 L502.09 90.29 L503.32 91.04" stroke="#1a1aff" stroke-width="3.3"/>
<path d="M505.89 92.64 L507.18 93.47 L508.46 94.3 L509.7 95.11 L510.9 95.9 L512.07 96.69 L513.24 97.51 L514.4 98.34 L515.54 99.16 L516.64 99.94 L517.69 100.67 L518.68 101.33 L519.6 101.9 L520.42 102.38 L521.14 102.81 L521.79 103.18 L522.39 103.49 L522.99 103.74 L523.6 103.93 L524.26 104.05 L525 104.1 L525.82 104.05 L526.7 103.9 L527.63 103.66 L528.57 103.37 L529.52 103.05 L530.45 102.73 L531.35 102.44 L532.2 102.2 L533 101.99 L533.77 101.78 L534.51 101.57 L535.23 101.37 L535.94 101.2 L536.66 101.06 L537.37 100.95 L538.1 100.9 L538.83 100.93 L539.57 101.05 L540.29 101.23 L541.03 101.44 L541.76 101.63 L542.5 101.78 L543.24 101.84 L544 101.8 L544.77 101.64 L545.57 101.4 L546.37 101.1 L547.17 100.74 L547.98 100.34 L548.77 99.93 L549.55 99.51 L550.3 99.1" stroke="#ff1a1a" stroke-width="3.3"/>
<path d="M551.04 98.7 L551.78 98.29 L552.5 97.86 L553.22 97.42 L553.91 96.96 L554.58 96.47 L555.21 95.95 L555.8 95.4 L556.34 94.81 L556.83 94.18 L557.29 93.53 L557.72 92.84 L558.13 92.14 L558.54 91.43 L558.96 90.72 L559.4 90 L559.85 89.29" stroke="#ff1a1a" stroke-width="2.7" opacity="0.55"/>
<path d="M575.06 59.1 L575.71 57.82 L576.36 56.76 L577 56 L577.63 55.58 L578.26 55.45 L578.88 55.55" stroke="#1a1aff" stroke-width="3.3"/>
<path d="M607.05 59.81 L608.05 59.85 L609.03 59.91 L610 60 L610.91 60.09 L611.72 60.16 L612.48 60.22 L613.21 60.31 L613.95 60.43 L614.74 60.6 L615.61 60.85 L616.6 61.2 L617.73 61.67 L618.98 62.26 L620.3 62.94 L621.67 63.66 L623.06 64.41 L624.44 65.13 L625.76 65.81 L627 66.4 L628.15 66.93 L629.26 67.44 L630.32 67.93" stroke="#ff1a1a" stroke-width="2.7" opacity="0.55"/>
<path d="M391.8 126.9 L392.29 126.43 L392.92 125.82 L393.66 125.09 L394.51 124.27 L395.42 123.39 L396.37 122.45 L397.34 121.48 L398.3 120.5 L399.27 119.5 L400.28 118.45 L401.33 117.35 L402.41 116.21 L403.52 115.03 L404.66 113.81 L405.82 112.57 L407 111.3 L408.2 109.98 L409.42 108.6 L410.67 107.17 L411.94 105.71 L413.24 104.25 L414.56 102.8 L415.92 101.37 L417.3 100 L418.75 98.65 L420.28 97.29 L421.86 95.94 L423.46 94.61 L425.04 93.31 L426.58 92.07 L428.04 90.9 L429.4 89.8 L430.67 88.77 L431.88 87.79 L433.03 86.86 L434.13 85.99 L435.18 85.18 L436.17 84.44 L437.11 83.78 L438 83.2 L438.81 82.7 L439.54 82.27 L440.2 81.91 L440.82 81.62 L441.41 81.41 L441.99 81.27 L442.58 81.2 L443.2 81.2 L443.83 81.28 L444.44 81.43 L445.04 81.65 L445.64 81.94 L446.26 82.31 L446.9 82.74 L447.58 83.24 L448.3 83.8 L449.08 84.43 L449.9 85.14 L450.76 85.92 L451.64 86.77 L452.53 87.67 L453.43 88.64 L454.33 89.65 L455.2 90.7 L456.06 91.82 L456.93 93.03 L457.79 94.31 L458.65 95.63 L459.51 96.98 L460.38 98.34 L461.24 99.68" stroke="#ff1a1a" stroke-width="2.7" opacity="0.55"/>
<path d="M436.17 84.44 L437.11 83.78 L438 83.2 L438.81 82.7 L439.54 82.27 L440.2 81.91 L440.82 81.62 L441.41 81.41 L441.99 81.27 L442.58 81.2 L443.2 81.2 L443.83 81.28 L444.44 81.43 L445.04 81.65 L445.64 81.94 L446.26 82.31 L446.9 82.74 L447.58 83.24 L448.3 83.8" stroke="#ff1a1a" stroke-width="3.3"/>
<path d="M475.19 123.8 L475.62 124.77 L476.04 125.7 L476.46 126.58 L476.91 127.43 L477.42 128.23 L478 129 L478.66 129.75 L479.39 130.48 L480.16 131.18 L480.96 131.84 L481.78 132.43 L482.61 132.95 L483.42 133.38 L484.2 133.7" stroke="#1a1aff" stroke-width="3.3"/>
<path d="M484.97 133.89 L485.74 133.97 L486.52 133.95 L487.29 133.85 L488.05 133.7 L488.79 133.53 L489.51 133.36 L490.2 133.2 L490.86 133.05 L491.51 132.89 L492.13 132.7 L492.73 132.5 L493.32 132.28 L493.89 132.04 L494.45 131.78 L495 131.5 L495.5 131.23 L495.93 130.99 L496.32 130.75 L496.71 130.48 L497.13 130.16 L497.62 129.75 L498.19 129.24 L498.9 128.6 L499.79 127.77" stroke="#1a1aff" stroke-width="2.7" opacity="0.55"/>
<path d="M514.15 112.42 L514.94 111.87 L515.67 111.36 L516.3 110.9 L516.81 110.5 L517.24 110.16 L517.6 109.85 L517.93 109.58" stroke="#ff1a1a" stroke-width="3.3"/>
<path d="M518.26 109.33 L518.61 109.09 L519.01 108.85 L519.5 108.6 L520.08 108.34 L520.71 108.06 L521.4 107.79 L522.11 107.53 L522.84 107.29 L523.55 107.08 L524.25 106.92 L524.9 106.8 L525.51 106.74 L526.11 106.71 L526.69 106.73 L527.26 106.78 L527.82 106.85" stroke="#1a1aff" stroke-width="3.3"/>
<path d="M530.07 107.36 L530.64 107.55 L531.21 107.77 L531.78 108.01 L532.35 108.26 L532.91 108.51 L533.46 108.76 L534 109 L534.53 109.26 L535.05 109.58 L535.57 109.91 L536.08 110.24 L536.58 110.53" stroke="#ff1a1a" stroke-width="3.3"/>
<path d="M543.28 107.61 L543.82 107.41 L544.37 107.22 L544.93 107.03 L545.5 106.82 L546.09 106.59 L546.7 106.3 L547.33 105.97 L547.98 105.62 L548.65 105.24 L549.34 104.84" stroke="#1a1aff" stroke-width="3.3"/>
<path d="M578.7 83.8 L579.99 83.1 L581.28 82.41 L582.57 81.74 L583.85 81.08 L585.13 80.44 L586.42 79.81 L587.71 79.2 L589 78.6 L590.33 78.01 L591.71 77.44" stroke="#ff1a1a" stroke-width="3.3"/>
<path d="M593.1 76.88 L594.49 76.33 L595.85 75.8 L597.14 75.28 L598.33 74.78 L599.4 74.3 L600.32 73.84 L601.12 73.42 L601.82 73.01 L602.45 72.62 L603.05 72.23 L603.66 71.84 L604.29 71.43 L605 71 L605.76 70.57 L606.55 70.16 L607.35 69.75" stroke="#ff1a1a" stroke-width="2.7" opacity="0.55"/>
<path d="M632.1 43.1 L633.05 42.29 L633.96 41.55 L634.85 40.86 L635.71 40.24 L636.55 39.67 L637.37 39.16 L638.19 38.7 L639 38.3 L639.84 37.97 L640.72 37.72 L641.61 37.53 L642.48 37.4 L643.29 37.3 L644.02 37.23 L644.63 37.17" stroke="#1a1aff" stroke-width="2.7" opacity="0.55"/>
<path d="M392 155.4 L392.82 156.24 L393.92 157.36 L395.23 158.69 L396.68 160.17 L398.2 161.73 L399.73 163.32 L401.18 164.86" stroke="#1a1aff" stroke-width="2.7" opacity="0.55"/>
<path d="M415.96 182.9 L416.46 183.71 L416.97 184.5 L417.47 185.22 L417.97 185.8 L418.45 186.18 L418.9 186.3 L419.33 186.12 L419.75 185.69 L420.16 185.06 L420.55 184.29 L420.93 183.45 L421.3 182.58 L421.66 181.74 L422 181" stroke="#1a1aff" stroke-width="3.3"/>
<path d="M422 181 L422.32 180.33 L422.61 179.65 L422.88 178.97 L423.14 178.29 L423.41 177.61 L423.68 176.91 L423.97 176.21 L424.3 175.5 L424.65 174.79 L425.02 174.07 L425.4 173.36 L425.79 172.64 L426.2 171.9 L426.62 171.13 L427.06 170.33 L427.5 169.5 L427.96 168.6 L428.43 167.63 L428.92 166.61 L429.42 165.58 L429.93 164.55 L430.45 163.56 L430.97 162.64 L431.5 161.8 L432.04 161.05 L432.59 160.36 L433.15 159.73 L433.71 159.13 L434.28 158.57 L434.86 158.03 L435.43 157.51 L436 157 L436.54 156.52 L437.04 156.08 L437.52 155.67 L438.01 155.28 L438.54 154.89 L439.13 154.49 L439.81 154.07 L440.6 153.6 L441.52 153.08 L442.56 152.53 L443.68 151.96 L444.87 151.37 L446.09 150.78 L447.32 150.19 L448.53 149.63 L449.7 149.1 L450.85 148.61 L452.02 148.15 L453.2 147.71 L454.37 147.28 L455.53 146.84 L456.66 146.39 L457.75 145.91 L458.8 145.4 L459.8 144.84 L460.75 144.25 L461.67 143.64 L462.56 143.01 L463.43 142.38 L464.29 141.74 L465.15 141.11 L466 140.5 L466.85 139.88 L467.7 139.22 L468.53 138.56 L469.36 137.9" stroke="#1a1aff" stroke-width="2.7" opacity="0.55"/>
<path d="M471.74 136.2 L472.5 135.8 L473.23 135.47 L473.92 135.19 L474.58 134.96 L475.24 134.8 L475.89 134.7 L476.56 134.68 L477.26 134.75 L478 134.9" stroke="#ff1a1a" stroke-width="3.3"/>
<path d="M483.74 138.77 L484.7 139 L485.72 138.99 L486.8 138.82 L487.94 138.51" stroke="#1a1aff" stroke-width="3.3"/>
<path d="M489.1 138.11 L490.28 137.65 L491.45 137.19 L492.59 136.76 L493.7 136.4 L494.77 136.09 L495.81 135.77 L496.84 135.46 L497.86 135.16 L498.87 134.85 L499.9 134.56 L500.94 134.27 L502 134 L503.11 133.72 L504.27 133.42 L505.46 133.13 L506.65 132.84 L507.81 132.59" stroke="#1a1aff" stroke-width="2.7" opacity="0.55"/>
<path d="M508.93 132.37 L509.97 132.2 L510.9 132.1 L511.72 132.07 L512.44 132.09 L513.08 132.16 L513.67 132.28 L514.24 132.42 L514.8 132.6 L515.38 132.79 L516 133 L516.63 133.21 L517.23 133.41 L517.83 133.63 L518.43 133.88 L519.06 134.17 L519.74 134.53 L520.48 134.97 L521.3 135.5 L522.24 136.17 L523.3 136.97 L524.43 137.87 L525.61 138.82 L526.78 139.79 L527.91 140.73 L528.97 141.62 L529.9 142.4 L530.73 143.08 L531.49 143.7 L532.2 144.26 L532.86 144.8 L533.47 145.32 L534.04 145.85 L534.58 146.41 L535.1 147 L535.57 147.69 L535.97 148.5" stroke="#1a1aff" stroke-width="3.3"/>
<path d="M540.38 149.56 L540.9 148.78 L541.5 148 L542.2 147.18 L542.99 146.26 L543.86 145.27 L544.76 144.22 L545.69 143.16 L546.6 142.08 L547.48 141.02 L548.3 140 L549.07 139 L549.81 137.99 L550.54 136.99 L551.25 135.98 L551.95 134.98 L552.64 134 L553.32 133.04 L554 132.1 L554.68 131.16 L555.36 130.2 L556.04 129.25 L556.71 128.32 L557.36 127.43 L558 126.6 L558.61 125.85 L559.2 125.2 L559.75 124.64 L560.26 124.15 L560.74 123.72 L561.21 123.36 L561.67 123.07 L562.15 122.85 L562.66 122.69 L563.2 122.6 L563.77 122.58 L564.36 122.62 L564.95 122.73 L565.57 122.91 L566.21 123.16 L566.87 123.47 L567.57 123.85 L568.3 124.3 L569.08 124.84 L569.9 125.48" stroke="#1a1aff" stroke-width="3.3"/>
<path d="M624.44 209.58 L625.21 211.57 L625.92 213.4 L626.53 214.98 L627 216.2 L627.31 217.05 L627.51 217.59 L627.61 217.88 L627.64 218.01 L627.63 218.01 L627.61 217.97 L627.59 217.95 L627.6 218" stroke="#ff1a1a" stroke-width="3.3"/>
<path d="M416.07 198.23 L416.5 197.02 L416.9 195.9 L417.27 194.84 L417.61 193.79 L417.93 192.78 L418.24 191.86 L418.55 191.03 L418.87 190.35 L419.22 189.83 L419.6 189.5 L420.02 189.41 L420.45 189.53 L420.9 189.83 L421.38 190.26" stroke="#ff1a1a" stroke-width="3.3"/>
<path d="M429.19 198.3 L429.73 198.94 L430.26 199.55 L430.77 200.11 L431.27 200.6 L431.74 200.97 L432.2 201.2 L432.62 201.32 L432.99 201.37 L433.33 201.33 L433.66 201.2 L434 200.96 L434.36 200.61 L434.75 200.13 L435.2 199.5 L435.71 198.66" stroke="#ff1a1a" stroke-width="3.3"/>
<path d="M443.52 184.89 L444.07 184.22 L444.6 183.6 L445.07 183.05 L445.5 182.56 L445.89 182.12 L446.26 181.74 L446.64 181.41 L447.05 181.11 L447.49 180.84 L448 180.6 L448.58 180.39 L449.21 180.23 L449.87 180.11 L450.57 180.03 L451.27 179.97 L451.97 179.93 L452.65 179.91" stroke="#1a1aff" stroke-width="2.7" opacity="0.55"/>
<path d="M473.3 177.2 L474.09 176.84 L474.74 176.51 L475.31 176.2 L475.82 175.86 L476.31 175.46 L476.81 174.97 L477.36 174.36 L478 173.6" stroke="#1a1aff" stroke-width="2.7" opacity="0.55"/>
<path d="M479.47 171.23 L480.26 169.72 L481.07 168.15 L481.9 166.64 L482.74 165.29 L483.57 164.24 L484.4 163.6 L485.21 163.39 L486 163.5 L486.79 163.87 L487.58 164.43 L488.4 165.11 L489.25 165.85 L490.15 166.57 L491.1 167.2" stroke="#ff1a1a" stroke-width="3.3"/>
<path d="M492.12 167.81 L493.21 168.49 L494.34 169.21 L495.5 169.95 L496.68 170.69 L497.87 171.41 L499.05 172.09 L500.2 172.7 L501.31 173.25 L502.39 173.75 L503.45 174.23 L504.53 174.67 L505.62 175.1 L506.77 175.51 L507.99 175.91 L509.3 176.3" stroke="#ff1a1a" stroke-width="2.7" opacity="0.55"/>
<path d="M548.4 181.57 L549.33 181.91 L550.24 182.29 L551.13 182.68 L551.98 183.09 L552.8 183.5 L553.58 183.94 L554.34 184.42 L555.07 184.94 L555.77 185.46 L556.44 185.98 L557.09 186.47 L557.71 186.92" stroke="#ff1a1a" stroke-width="3.3"/>
<path d="M635.27 168.32 L636.58 166.82 L637.8 165.4 L638.97 164.03 L640.14 162.66 L641.29 161.32 L642.38 160.06 L643.38 158.89 L644.27 157.85 L645.02 156.98 L645.6 156.3" stroke="#1a1aff" stroke-width="2.7" opacity="0.55"/>
<path d="M566.17 185.48 L566.57 185.12 L567.02 184.76 L567.54 184.37 L568.16 183.95 L568.9 183.5 L569.8 182.97 L570.85 182.33 L572.02 181.65 L573.24 180.95 L574.5 180.29 L575.74 179.72 L576.92 179.27 L578 179 L578.98 178.89 L579.89 178.9 L580.76 179.01 L581.6 179.22 L582.44 179.51 L583.31 179.88 L584.22 180.31 L585.2 180.8 L586.26 181.35 L587.39 181.97 L588.56 182.67 L589.75 183.43 L590.94 184.27 L592.11 185.18 L593.24 186.15 L594.3 187.2 L595.31 188.38 L596.29 189.72 L597.25 191.16" stroke="#1a1aff" stroke-width="2.7" opacity="0.55"/>
<path d="M601.5 198.1 L602.19 199.19 L602.79 200.29 L603.34 201.35 L603.86 202.33 L604.36 203.16 L604.89 203.82 L605.46 204.25 L606.1 204.4 L606.81 204.22 L607.57 203.73 L608.37 203 L609.19 202.1 L610.02 201.09 L610.84 200.04" stroke="#1a1aff" stroke-width="3.3"/>
<path d="M559.37 187.97 L559.85 188.28 L560.31 188.54 L560.74 188.76 L561.17 188.92 L561.58 189 L562 189 L562.4 188.89 L562.78 188.68" stroke="#ff1a1a" stroke-width="3.3"/>
<path d="M430.06 210.96 L430.4 210.1 L430.74 209.37 L431.1 208.7 L431.48 208.08 L431.86 207.52 L432.25 207.03 L432.64 206.61 L433.02 206.27 L433.4 206 L433.75 205.83 L434.09 205.74 L434.42 205.74 L434.74 205.81 L435.09 205.93 L435.45 206.09 L435.85 206.29" stroke="#1a1aff" stroke-width="3.3"/>
<path d="M469.92 190.46 L470.83 189.03 L471.7 187.68 L472.52 186.46 L473.3 185.4 L474 184.5 L474.62 183.71 L475.18 183.03 L475.71 182.45 L476.23 181.95 L476.77 181.51 L477.35 181.14 L478 180.8 L478.69 180.53" stroke="#ff1a1a" stroke-width="3.3"/>
<path d="M538 188.6 L538.96 188.73 L539.89 189.02 L540.81 189.42 L541.73 189.89 L542.66 190.39 L543.6 190.89 L544.58 191.34 L545.6 191.7 L546.71 192 L547.91 192.28 L549.16 192.54 L550.42 192.79 L551.65 193.01 L552.8 193.2 L553.83 193.37 L554.7 193.5 L555.38 193.58 L555.88 193.61 L556.27 193.59 L556.58 193.56 L556.86 193.52 L557.16 193.5 L557.53 193.52 L558 193.6 L558.57 193.7 L559.2 193.78 L559.87 193.87 L560.56 194 L561.28 194.18 L561.99 194.44 L562.71 194.81" stroke="#1a1aff" stroke-width="3.3"/>
<path d="M478 180.8 L478.69 180.53 L479.39 180.36 L480.1 180.27 L480.84 180.23 L481.63 180.23 L482.48 180.26 L483.4 180.29 L484.4 180.3 L485.52 180.29 L486.75 180.28 L488.07 180.27 L489.44 180.29 L490.83 180.33 L492.2 180.43 L493.54 180.58 L494.8 180.8 L495.99 181.1 L497.15 181.46 L498.27 181.88 L499.38 182.34" stroke="#ff1a1a" stroke-width="2.7" opacity="0.55"/>
<path d="M508.34 187.26 L509.48 188 L510.62 188.7 L511.76 189.34 L512.9 189.9 L514.05 190.4 L515.2 190.87 L516.36 191.3 L517.52 191.69 L518.67 192.02 L519.8 192.29 L520.92 192.49 L522 192.6 L523.05 192.61 L524.08 192.52 L525.08 192.35 L526.07 192.12 L527.05 191.85 L528.03 191.56 L529.01 191.27 L530 191 L531 190.7 L532.01 190.33 L533.02 189.92 L534.02 189.51" stroke="#1a1aff" stroke-width="2.7" opacity="0.55"/>
<path d="M565.38 197.63 L566.04 198.6 L566.71 199.62 L567.4 200.64 L568.13 201.65 L568.9 202.6 L569.71 203.53 L570.54 204.49 L571.39 205.46 L572.27 206.43 L573.19 207.37 L574.13 208.27 L575.1 209.12 L576.1 209.9 L577.15 210.63 L578.24 211.33 L579.37 211.99 L580.53 212.61 L581.7 213.17 L582.88 213.66 L584.05 214.07 L585.2 214.4 L586.35 214.64 L587.52 214.8 L588.7 214.89 L589.87 214.91 L591.03 214.86 L592.16 214.76 L593.25 214.6 L594.3 214.4 L595.31 214.12 L596.32 213.73 L597.29 213.28 L598.24 212.78 L599.14 212.25 L599.99 211.73 L600.78 211.24 L601.5 210.8 L602.13 210.35 L602.67 209.83" stroke="#ff1a1a" stroke-width="3.3"/>
<path d="M606.16 209.02 L606.65 209.85 L607.14 210.8 L607.62 211.8 L608.06 212.78 L608.46 213.67 L608.8 214.4 L609.09 215.01 L609.34 215.58 L609.55 216.11 L609.73 216.6 L609.87 217.04 L610 217.42 L610.11 217.74 L610.2 218" stroke="#1a1aff" stroke-width="3.3"/>
<path d="M527.4 218 L527.59 217.85 L527.83 217.64 L528.12 217.4 L528.45 217.12 L528.81 216.84 L529.19 216.55 L529.59 216.26 L530 216 L530.43 215.74 L530.9 215.46 L531.4 215.18 L531.91 214.91 L532.44 214.64 L532.97 214.39 L533.49 214.18 L534 214 L534.5 213.86 L535 213.75 L535.5 213.66 L536 213.59 L536.5 213.55 L537 213.52 L537.5 213.5 L538 213.5 L538.49 213.5 L538.98 213.52 L539.46 213.55 L539.94 213.59 L540.43 213.66 L540.93 213.75 L541.45 213.86 L542 214 L542.58 214.18 L543.2 214.39 L543.85 214.64 L544.5 214.91 L545.15 215.18 L545.8 215.46 L546.42 215.74 L547 216 L547.58 216.26 L548.16 216.55 L548.75 216.84 L549.31 217.12 L549.84 217.4 L550.3 217.64 L550.7 217.85 L551 218" stroke="#ff1a1a" stroke-width="2.7" opacity="0.55"/>
</g>
<g clip-path="url(#cb)" fill="none" stroke="#111" stroke-width="1.25" stroke-linejoin="round">
<path d="M391.8 23.3C392.88 23.3 395.48 23.58 398.3 23.3C401.12 23.02 405.75 22.32 408.7 21.6C411.65 20.88 413.95 19.85 416 19C418.05 18.15 419.67 17.23 421 16.5C422.33 15.77 423.02 15.17 424 14.6C424.98 14.03 425.82 12.98 426.9 13.1C427.98 13.22 429.28 14.2 430.5 15.3C431.72 16.4 432.98 18.12 434.2 19.7C435.42 21.28 436.58 23.08 437.8 24.8C439.02 26.52 440.32 28.38 441.5 30C442.68 31.62 443.65 32.92 444.9 34.5C446.15 36.08 447.57 37.92 449 39.5C450.43 41.08 451.67 42.5 453.5 44C455.33 45.5 458.05 47.47 460 48.5C461.95 49.53 463.53 49.98 465.2 50.2C466.87 50.42 468.3 50.17 470 49.8C471.7 49.43 472.95 49.02 475.4 48C477.85 46.98 481.87 44.98 484.7 43.7C487.53 42.42 489.85 41.15 492.4 40.3C494.95 39.45 497.45 38.47 500 38.6C502.55 38.73 505.3 39.48 507.7 41.1C510.1 42.72 511.85 45.67 514.4 48.3C516.95 50.93 520.13 54.47 523 56.9C525.87 59.33 529.07 61.6 531.6 62.9C534.13 64.2 535.9 64.98 538.2 64.7C540.5 64.42 542.77 63.08 545.4 61.2C548.03 59.32 551.07 56.27 554 53.4C556.93 50.53 561 46.07 563 44C565 41.93 564.82 41.67 566 41C567.18 40.33 568.57 39.8 570.1 40C571.63 40.2 573.72 41.45 575.2 42.2C576.68 42.95 577.55 44 579 44.5C580.45 45 582.4 45.53 583.9 45.2C585.4 44.87 586.57 43.72 588 42.5C589.43 41.28 590.6 40.67 592.5 37.9C594.4 35.13 597.38 29.77 599.4 25.9C601.42 22.03 603.17 17.87 604.6 14.7C606.03 11.53 607.15 8.72 608 6.9C608.85 5.08 609.42 4.32 609.7 3.8"/>
<path d="M391.8 23.8C393.47 24.43 398.42 25.82 401.8 27.6C405.18 29.38 408.93 32.2 412.1 34.5C415.27 36.8 417.92 38.82 420.8 41.4C423.68 43.98 426.53 47.7 429.4 50C432.27 52.3 435.13 54.05 438 55.2C440.87 56.35 444.02 56.18 446.6 56.9C449.18 57.62 450.97 58.3 453.5 59.5C456.03 60.7 459.57 62.92 461.8 64.1C464.03 65.28 464.63 66.03 466.9 66.6C469.17 67.17 472.43 67.3 475.4 67.5C478.37 67.7 481.87 67.95 484.7 67.8C487.53 67.65 489.7 67.07 492.4 66.6C495.1 66.13 498.07 65 500.9 65C503.73 65 507.05 65.9 509.4 66.6C511.75 67.3 512.73 68.23 515 69.2C517.27 70.17 519.95 71.35 523 72.4C526.05 73.45 530.77 74.9 533.3 75.5C535.83 76.1 535.9 76.23 538.2 76C540.5 75.77 544.17 75.27 547.1 74.1C550.03 72.93 553.32 70.6 555.8 69C558.28 67.4 559.92 65.95 562 64.5C564.08 63.05 565.8 61.72 568.3 60.3C570.8 58.88 574.7 57.4 577 56C579.3 54.6 580.1 52.75 582.1 51.9C584.1 51.05 586.4 51.22 589 50.9C591.6 50.58 594.82 51.02 597.7 50C600.58 48.98 603.43 46.95 606.3 44.8C609.17 42.65 612.45 39.15 614.9 37.1C617.35 35.05 618.98 33.8 621 32.5C623.02 31.2 624.57 30.4 627 29.3C629.43 28.2 632.58 26.77 635.6 25.9C638.62 25.03 643.52 24.4 645.1 24.1"/>
<path d="M429.8 4C430.28 4.67 431.6 6.85 432.7 8C433.8 9.15 435.18 10.03 436.4 10.9C437.62 11.77 438.67 12.65 440 13.2C441.33 13.75 442.93 14.08 444.4 14.2C445.87 14.32 446.7 14.12 448.8 13.9C450.9 13.68 453.92 13.5 457 12.9C460.08 12.3 463.8 11.3 467.3 10.3C470.8 9.3 475.1 7.82 478 6.9C480.9 5.98 482.67 4.52 484.7 4.8C486.73 5.08 488.13 7.1 490.2 8.6C492.27 10.1 494.5 12.37 497.1 13.8C499.7 15.23 502.63 16.63 505.8 17.2C508.97 17.77 512.37 17.48 516.1 17.2C519.83 16.92 524.52 16.13 528.2 15.5C531.88 14.87 535.05 12.82 538.2 13.4C541.35 13.98 544.17 17.35 547.1 19C550.03 20.65 553.32 22.1 555.8 23.3C558.28 24.5 560.2 25.55 562 26.2C563.8 26.85 565.27 27.23 566.6 27.2C567.93 27.17 568.85 26.8 570 26C571.15 25.2 572.05 24.43 573.5 22.4C574.95 20.37 576.97 16.38 578.7 13.8C580.43 11.22 582.62 8.57 583.9 6.9C585.18 5.23 585.98 4.32 586.4 3.8"/>
<path d="M421.1 4C421.58 4.55 422.92 6.23 424 7.3C425.08 8.37 426.52 10.28 427.6 10.4C428.68 10.52 429.4 9.03 430.5 8C431.6 6.97 433.58 4.83 434.2 4.2"/>
<path d="M596.8 3.8C597.5 4.42 599.57 6.18 601 7.5C602.43 8.82 603.37 9.78 605.4 11.7C607.43 13.62 611.1 17.2 613.2 19C615.3 20.8 616.28 21.5 618 22.5C619.72 23.5 621.15 24.43 623.5 25C625.85 25.57 629.22 26.05 632.1 25.9C634.98 25.75 638.63 24.53 640.8 24.1C642.97 23.67 644.38 23.43 645.1 23.3"/>
<path d="M391.8 37.1C392.88 37.38 395.77 37.37 398.3 38.8C400.83 40.23 404.4 43.27 407 45.7C409.6 48.13 411.6 50.23 413.9 53.4C416.2 56.57 418.5 61.53 420.8 64.7C423.1 67.87 425.55 70.65 427.7 72.4C429.85 74.15 431.55 74.3 433.7 75.2C435.85 76.1 437.87 77.23 440.6 77.8C443.33 78.37 447.7 78.05 450.1 78.6C452.5 79.15 452.48 79.7 455 81.1C457.52 82.5 461.8 85.17 465.2 87C468.6 88.83 472.15 90.82 475.4 92.1C478.65 93.38 481.58 94.27 484.7 94.7C487.82 95.13 491.4 94.28 494.1 94.7C496.8 95.12 499.25 96.43 500.9 97.2C502.55 97.97 502.42 97.93 504 99.3C505.58 100.67 508.35 103.47 510.4 105.4C512.45 107.33 514.18 109.57 516.3 110.9C518.42 112.23 520.75 112.88 523.1 113.4C525.45 113.92 527.9 114.2 530.4 114C532.9 113.8 535.83 112.2 538.1 112.2C540.37 112.2 541.97 113.62 544 114C546.03 114.38 548.18 114.72 550.3 114.5C552.42 114.28 554.88 113.77 556.7 112.7C558.52 111.63 559.83 109.47 561.2 108.1C562.57 106.73 563.6 106.1 564.9 104.5C566.2 102.9 567.57 100.52 569 98.5C570.43 96.48 572 94.4 573.5 92.4C575 90.4 576.57 88.08 578 86.5C579.43 84.92 580.6 83.98 582.1 82.9C583.6 81.82 585.27 80.72 587 80C588.73 79.28 590.15 78.55 592.5 78.6C594.85 78.65 598.23 78.73 601.1 80.3C603.97 81.87 606.83 85.12 609.7 88C612.57 90.88 615.42 94.42 618.3 97.6C621.18 100.78 624.12 104 627 107.1C629.88 110.2 632.58 113 635.6 116.2C638.62 119.4 643.52 124.62 645.1 126.3"/>
<path d="M391.8 69.8C393.47 69.52 398.42 68.67 401.8 68.1C405.18 67.53 408.8 66.88 412.1 66.4C415.4 65.92 418.72 65.07 421.6 65.2C424.48 65.33 426.67 66.28 429.4 67.2C432.13 68.12 435.13 69.6 438 70.7C440.87 71.8 443.73 73.65 446.6 73.8C449.47 73.95 452.97 72.23 455.2 71.6C457.43 70.97 458.48 70.35 460 70C461.52 69.65 462.58 69.07 464.3 69.5C466.02 69.93 468.17 71.23 470.3 72.6C472.43 73.97 474.7 76 477.1 77.7C479.5 79.4 482.15 81.53 484.7 82.8C487.25 84.07 489.7 84.17 492.4 85.3C495.1 86.43 497.82 87.83 500.9 89.6C503.98 91.37 507.78 93.85 510.9 95.9C514.02 97.95 517.25 100.53 519.6 101.9C521.95 103.27 522.9 104.05 525 104.1C527.1 104.15 530.02 102.73 532.2 102.2C534.38 101.67 536.13 100.97 538.1 100.9C540.07 100.83 541.97 102.1 544 101.8C546.03 101.5 548.33 100.17 550.3 99.1C552.27 98.03 554.28 96.92 555.8 95.4C557.32 93.88 558.2 91.9 559.4 90C560.6 88.1 561.8 86.33 563 84C564.2 81.67 565.13 78.93 566.6 76C568.07 73.07 570.07 69.73 571.8 66.4C573.53 63.07 575.3 57.57 577 56C578.7 54.43 580.28 56.7 582 57C583.72 57.3 584.12 57.38 587.3 57.8C590.48 58.22 597.32 59.13 601.1 59.5C604.88 59.87 607.42 59.72 610 60C612.58 60.28 613.77 60.13 616.6 61.2C619.43 62.27 623.83 64.97 627 66.4C630.17 67.83 632.58 69.15 635.6 69.8C638.62 70.45 643.52 70.22 645.1 70.3"/>
<path d="M391.8 126.9C392.88 125.83 395.77 123.1 398.3 120.5C400.83 117.9 403.83 114.72 407 111.3C410.17 107.88 413.57 103.58 417.3 100C421.03 96.42 425.95 92.6 429.4 89.8C432.85 87 435.7 84.63 438 83.2C440.3 81.77 441.48 81.1 443.2 81.2C444.92 81.3 446.3 82.22 448.3 83.8C450.3 85.38 452.9 87.83 455.2 90.7C457.5 93.57 459.8 97.55 462.1 101C464.4 104.45 466.98 107.95 469 111.4C471.02 114.85 472.7 118.77 474.2 121.7C475.7 124.63 476.33 127 478 129C479.67 131 482.17 133 484.2 133.7C486.23 134.4 488.4 133.57 490.2 133.2C492 132.83 493.55 132.27 495 131.5C496.45 130.73 496.82 130.52 498.9 128.6C500.98 126.68 505.58 122.2 507.5 120C509.42 117.8 508.93 116.92 510.4 115.4C511.87 113.88 514.78 112.03 516.3 110.9C517.82 109.77 518.07 109.28 519.5 108.6C520.93 107.92 523.23 107.03 524.9 106.8C526.57 106.57 527.98 106.83 529.5 107.2C531.02 107.57 532.57 108.38 534 109C535.43 109.62 536.73 111.05 538.1 110.9C539.47 110.75 540.77 108.87 542.2 108.1C543.63 107.33 545.05 107.13 546.7 106.3C548.35 105.47 550.28 104.3 552.1 103.1C553.92 101.9 555.95 100.45 557.6 99.1C559.25 97.75 560.22 96.52 562 95C563.78 93.48 565.52 91.87 568.3 90C571.08 88.13 575.25 85.7 578.7 83.8C582.15 81.9 585.55 80.18 589 78.6C592.45 77.02 596.73 75.57 599.4 74.3C602.07 73.03 603 72.18 605 71C607 69.82 609.32 68.98 611.4 67.2C613.48 65.42 615.48 62.88 617.5 60.3C619.52 57.72 621.07 54.57 623.5 51.7C625.93 48.83 629.52 45.33 632.1 43.1C634.68 40.87 636.83 39.3 639 38.3C641.17 37.3 644.08 37.3 645.1 37.1"/>
<path d="M392 155.4C393.75 157.22 399.23 162.67 402.5 166.3C405.77 169.93 409.52 174.67 411.6 177.2C413.68 179.73 413.78 179.98 415 181.5C416.22 183.02 417.73 186.38 418.9 186.3C420.07 186.22 421.1 182.8 422 181C422.9 179.2 423.38 177.42 424.3 175.5C425.22 173.58 426.3 171.78 427.5 169.5C428.7 167.22 430.08 163.88 431.5 161.8C432.92 159.72 434.48 158.37 436 157C437.52 155.63 438.32 154.92 440.6 153.6C442.88 152.28 446.67 150.47 449.7 149.1C452.73 147.73 456.08 146.83 458.8 145.4C461.52 143.97 463.72 142.1 466 140.5C468.28 138.9 470.5 136.73 472.5 135.8C474.5 134.87 475.97 134.37 478 134.9C480.03 135.43 482.08 138.75 484.7 139C487.32 139.25 490.82 137.23 493.7 136.4C496.58 135.57 499.13 134.72 502 134C504.87 133.28 508.57 132.27 510.9 132.1C513.23 131.93 514.27 132.43 516 133C517.73 133.57 518.98 133.93 521.3 135.5C523.62 137.07 527.6 140.48 529.9 142.4C532.2 144.32 533.75 145.35 535.1 147C536.45 148.65 536.93 152.13 538 152.3C539.07 152.47 539.78 150.05 541.5 148C543.22 145.95 546.22 142.65 548.3 140C550.38 137.35 552.18 134.57 554 132.1C555.82 129.63 557.67 126.78 559.2 125.2C560.73 123.62 561.68 122.75 563.2 122.6C564.72 122.45 566.3 123.02 568.3 124.3C570.3 125.58 572.9 128.15 575.2 130.3C577.5 132.45 579.8 134.92 582.1 137.2C584.4 139.48 586.97 142.02 589 144C591.03 145.98 591.9 146.43 594.3 149.1C596.7 151.77 600.68 156.07 603.4 160C606.12 163.93 608.48 168.47 610.6 172.7C612.72 176.93 614.88 182.53 616.1 185.4C617.32 188.27 617 187.18 617.9 189.9C618.8 192.62 619.98 197.32 621.5 201.7C623.02 206.08 625.98 213.48 627 216.2C628.02 218.92 627.5 217.7 627.6 218"/>
<path d="M409.2 218C409.88 216.08 412.02 210.18 413.3 206.5C414.58 202.82 415.85 198.73 416.9 195.9C417.95 193.07 418.52 190.08 419.6 189.5C420.68 188.92 421.98 191.13 423.4 192.4C424.82 193.67 426.63 195.63 428.1 197.1C429.57 198.57 431.02 200.8 432.2 201.2C433.38 201.6 433.92 201.37 435.2 199.5C436.48 197.63 438.33 192.65 439.9 190C441.47 187.35 443.25 185.17 444.6 183.6C445.95 182.03 446.55 181.22 448 180.6C449.45 179.98 451.63 179.92 453.3 179.9C454.97 179.88 456.18 180.5 458 180.5C459.82 180.5 461.65 180.45 464.2 179.9C466.75 179.35 471 178.25 473.3 177.2C475.6 176.15 476.15 175.87 478 173.6C479.85 171.33 482.22 164.67 484.4 163.6C486.58 162.53 488.47 165.68 491.1 167.2C493.73 168.72 497.17 171.18 500.2 172.7C503.23 174.22 505.67 175.25 509.3 176.3C512.93 177.35 517.22 178.25 522 179C526.78 179.75 534.07 180.5 538 180.8C541.93 181.1 543.13 180.35 545.6 180.8C548.07 181.25 550.68 182.42 552.8 183.5C554.92 184.58 556.77 186.38 558.3 187.3C559.83 188.22 560.88 189.13 562 189C563.12 188.87 563.85 187.42 565 186.5C566.15 185.58 566.73 184.75 568.9 183.5C571.07 182.25 575.28 179.45 578 179C580.72 178.55 582.48 179.43 585.2 180.8C587.92 182.17 591.58 184.32 594.3 187.2C597.02 190.08 599.53 195.23 601.5 198.1C603.47 200.97 604.28 204.4 606.1 204.4C607.92 204.4 610.43 200.37 612.4 198.1C614.37 195.83 615.47 194.13 617.9 190.8C620.33 187.47 623.68 182.33 627 178.1C630.32 173.87 634.7 169.03 637.8 165.4C640.9 161.77 644.3 157.82 645.6 156.3"/>
<path d="M428.1 218C428.48 216.68 429.52 212.1 430.4 210.1C431.28 208.1 432.42 206.6 433.4 206C434.38 205.4 435.03 205.92 436.3 206.5C437.57 207.08 439.07 208.78 441 209.5C442.93 210.22 445.23 211.2 447.9 210.8C450.57 210.4 453.98 209.52 457 207.1C460.02 204.68 463.28 199.92 466 196.3C468.72 192.68 471.3 187.98 473.3 185.4C475.3 182.82 476.15 181.65 478 180.8C479.85 179.95 481.6 180.3 484.4 180.3C487.2 180.3 491.57 180.1 494.8 180.8C498.03 181.5 500.78 182.98 503.8 184.5C506.82 186.02 509.87 188.55 512.9 189.9C515.93 191.25 519.15 192.42 522 192.6C524.85 192.78 527.33 191.67 530 191C532.67 190.33 535.4 188.48 538 188.6C540.6 188.72 542.82 190.88 545.6 191.7C548.38 192.52 552.63 193.18 554.7 193.5C556.77 193.82 556.55 193.3 558 193.6C559.45 193.9 561.58 193.8 563.4 195.3C565.22 196.8 566.78 200.17 568.9 202.6C571.02 205.03 573.38 207.93 576.1 209.9C578.82 211.87 582.17 213.65 585.2 214.4C588.23 215.15 591.58 215 594.3 214.4C597.02 213.8 599.68 211.87 601.5 210.8C603.32 209.73 603.98 207.4 605.2 208C606.42 208.6 607.97 212.73 608.8 214.4C609.63 216.07 609.97 217.4 610.2 218"/>
<path d="M527.4 218C527.83 217.67 528.9 216.67 530 216C531.1 215.33 532.67 214.42 534 214C535.33 213.58 536.67 213.5 538 213.5C539.33 213.5 540.5 213.58 542 214C543.5 214.42 545.5 215.33 547 216C548.5 216.67 550.33 217.67 551 218"/>
</g>
<g clip-path="url(#cb)">
<ellipse cx="617.6" cy="189.4" rx="1.3" ry="1.3" fill="#e00" opacity="0.8"/>
<ellipse cx="618.4" cy="191.2" rx="1.3" ry="1.3" fill="#00e" opacity="0.8"/>
</g>
<rect x="391.75" y="3.95" width="254.14999999999998" height="214.15" fill="none" stroke="#1a1a1a" stroke-width="1.35"/>
<path d="M391.75 25 h5.6 M391.75 67.95 h5.6 M391.75 110.9 h5.6 M391.75 153.85 h5.6 M391.75 196.8 h5.6 M484.5 218.1 v-3.5 M538.4 218.1 v-3.5" stroke="#222" stroke-width="1.1" fill="none"/>
<rect x="648.6" y="3.9" width="11" height="214.4" fill="url(#bwr)" stroke="#333" stroke-width="1.1"/>
<g clip-path="url(#cc)" fill="none" stroke-linejoin="round" stroke-linecap="round">
<path d="M44 330.04 L48 330.34 L52 330.17 L56 330.4 L60 330.43 L64 329.87 L68 329.81 L72 330.64 L76 330.06 L80 330.03 L84 330.8 L88 330.27 L92 330.64 L96 330.28 L100 330.44 L104 329.95 L108 330.43 L112 330.67 L116 330.32 L120 330.54 L124 330.47 L128 329.86 L132 330.56 L136 330.39 L140 330.1 L144 329.83 L148 330.67 L152 330.27 L156 330.52 L160 330.68 L164 330.51 L168 330.72 L172 330.19 L176 330.6 L180 330.24 L184 330.74 L188 330.68 L192 329.9 L196 329.94 L200 330.02 L204 330.77 L208 330.24 L212 330.43 L216 330.1 L220 330.31 L224 330.19 L228 330.15 L232 330.39 L236 330.38 L240 330.7 L244 330.48 L248 330.73 L252 330.66 L256 330.79 L260 330.47 L264 329.96 L268 330.66 L272 330.76 L276 330.7 L280 330.37 L284 330.51 L288 330.01 L292 330.63 L296 330.37 L300 330.08 L304 329.86 L308 330.65 L312 330.79" stroke="#000" stroke-width="2.2"/>
<path d="M44.5 370.1C44.75 371.08 45.45 374.47 46 376C46.55 377.53 47.1 379.03 47.8 379.3C48.5 379.57 49.12 378.8 50.2 377.6C51.28 376.4 53 373.35 54.3 372.1C55.6 370.85 57.13 371.12 58 370.1C58.87 369.08 59.1 367.7 59.5 366C59.9 364.3 59.9 361.27 60.4 359.9C60.9 358.53 61.47 358.15 62.5 357.8C63.53 357.45 65.52 357.93 66.6 357.8C67.68 357.67 67.98 357.1 69 357C70.02 356.9 71.7 356.53 72.7 357.2C73.7 357.87 74.15 359.53 75 361C75.85 362.47 76.82 363.98 77.8 366C78.78 368.02 79.7 370.2 80.9 373.1C82.1 376 83.65 381.75 85 383.4C86.35 385.05 87.65 382.5 89 383C90.35 383.5 91.9 384.98 93.1 386.4C94.3 387.82 95 389.45 96.2 391.5C97.4 393.55 99.03 396.48 100.3 398.7C101.57 400.92 102.78 404.63 103.8 404.8C104.82 404.97 105.7 402.5 106.4 399.7C107.1 396.9 107.48 392.08 108 388C108.52 383.92 108.92 378.7 109.5 375.2C110.08 371.7 110.65 369.9 111.5 367C112.35 364.1 113.52 359.38 114.6 357.8C115.68 356.22 116.82 357.4 118 357.5C119.18 357.6 120.57 356.3 121.7 358.4C122.83 360.5 123.6 367.72 124.8 370.1C126 372.48 127.7 370.48 128.9 372.7C130.1 374.92 131.15 380.43 132 383.4C132.85 386.37 133.05 388.47 134 390.5C134.95 392.53 136.5 394.4 137.7 395.6C138.9 396.8 140.12 396.85 141.2 397.7C142.28 398.55 143.02 399.68 144.2 400.7C145.38 401.72 147.1 404.3 148.3 403.8C149.5 403.3 150.55 401.78 151.4 397.7C152.25 393.62 152.55 385.1 153.4 379.3C154.25 373.5 154.97 367.33 156.5 362.9C158.03 358.47 160.22 355.42 162.6 352.7C164.98 349.98 168.68 347.6 170.8 346.6C172.92 345.6 173.5 345.98 175.3 346.7C177.1 347.42 179.3 348.9 181.6 350.9C183.9 352.9 186.8 358.35 189.1 358.7C191.4 359.05 192.93 355.25 195.4 353C197.87 350.75 201.25 344.95 203.9 345.2C206.55 345.45 208.48 354.25 211.3 354.5C214.12 354.75 218.58 349.23 220.8 346.7C223.02 344.17 223.62 342.5 224.6 339.3C225.58 336.1 226 328.38 226.7 327.5C227.4 326.62 228.02 332.57 228.8 334C229.58 335.43 230.27 336.28 231.4 336.1C232.53 335.92 234.18 333.78 235.6 332.9C237.02 332.02 238.67 331.73 239.9 330.8C241.13 329.87 241.77 326.95 243 327.3C244.23 327.65 245.88 330.2 247.3 332.9C248.72 335.6 250.1 340.32 251.5 343.5C252.9 346.68 254.53 351.02 255.7 352C256.87 352.98 257.33 349.12 258.5 349.4C259.67 349.68 261.22 354.15 262.7 353.7C264.18 353.25 265.57 348.22 267.4 346.7C269.23 345.18 271.93 345.13 273.7 344.6C275.47 344.07 276.58 345.27 278 343.5C279.42 341.73 280.97 333.47 282.2 334C283.43 334.53 284.42 344.42 285.4 346.7C286.38 348.98 287.05 345.13 288.1 347.7C289.15 350.27 290.57 362.8 291.7 362.1C292.83 361.4 293.83 350.83 294.9 343.5C295.97 336.17 296.87 324.98 298.1 318.1C299.33 311.22 301 305.45 302.3 302.2C303.6 298.95 304.83 297 305.9 298.6C306.97 300.2 307.88 307.67 308.7 311.8C309.52 315.93 310.45 321.47 310.8 323.4" stroke="#0000ff" stroke-width="2.9"/>
<path d="M44 330 H312" stroke="#ff0000" stroke-width="2.7"/>
</g>
<rect x="44.35" y="253.1" width="267.4" height="153.6" fill="none" stroke="#000" stroke-width="1.7"/>
<path d="M44.35 406.7 v-3 M44.35 253.1 v3 M77.77 406.7 v-1.8 M77.77 253.1 v1.8 M111.2 406.7 v-3 M111.2 253.1 v3 M144.62 406.7 v-1.8 M144.62 253.1 v1.8 M178.05 406.7 v-3 M178.05 253.1 v3 M211.47 406.7 v-1.8 M211.47 253.1 v1.8 M244.9 406.7 v-3 M244.9 253.1 v3 M278.32 406.7 v-1.8 M278.32 253.1 v1.8 M311.75 406.7 v-3 M311.75 253.1 v3 M44.35 253.1 h3 M311.75 253.1 h-3 M44.35 272.3 h1.8 M311.75 272.3 h-1.8 M44.35 291.5 h3 M311.75 291.5 h-3 M44.35 310.7 h1.8 M311.75 310.7 h-1.8 M44.35 329.9 h3 M311.75 329.9 h-3 M44.35 349.1 h1.8 M311.75 349.1 h-1.8 M44.35 368.3 h3 M311.75 368.3 h-3 M44.35 387.5 h1.8 M311.75 387.5 h-1.8 M44.35 406.7 h3 M311.75 406.7 h-3" stroke="#000" stroke-width="1.2" fill="none"/>
<path d="M88.2 264.3 H124.5" stroke="#000" stroke-width="2.4"/>
<path d="M88.2 288.8 H124.5" stroke="#0000ff" stroke-width="2.4"/>
<path d="M88.2 313.3 H124.5" stroke="#ff0000" stroke-width="2.4"/>
<g clip-path="url(#cd)" fill="none" stroke-linejoin="round" stroke-linecap="round">
<path d="M390.5 325.9C391.48 325.25 394.7 321.3 396.4 322C398.1 322.7 398.93 327.7 400.7 330.1C402.47 332.5 405.25 335.88 407 336.4C408.75 336.92 409.45 333.9 411.2 333.2C412.95 332.5 415.57 333.25 417.5 332.2C419.43 331.15 420.68 327.25 422.8 326.9C424.92 326.55 427.73 329.92 430.2 330.1C432.67 330.28 435.67 329.48 437.6 328C439.53 326.52 440.22 321.73 441.8 321.2C443.38 320.67 445.17 323.32 447.1 324.8C449.03 326.28 451.3 328.33 453.4 330.1C455.5 331.87 457.58 334.35 459.7 335.4C461.82 336.45 463.98 336.77 466.1 336.4C468.22 336.03 469.95 333.37 472.4 333.2C474.85 333.03 478.52 335.75 480.8 335.4C483.08 335.05 484.52 333.68 486.1 331.1C487.68 328.52 489.07 321.13 490.3 319.9C491.53 318.67 492.08 322.53 493.5 323.7C494.92 324.87 497.22 325.48 498.8 326.9C500.38 328.32 501.6 331.5 503 332.2C504.4 332.9 505.62 332.33 507.2 331.1C508.78 329.87 510.92 325.5 512.5 324.8C514.08 324.1 515.3 325.85 516.7 326.9C518.1 327.95 519.68 331.02 520.9 331.1C522.12 331.18 522.72 327.42 524 327.4C525.28 327.38 527.08 330.75 528.6 331C530.12 331.25 531.6 328.75 533.1 328.9C534.6 329.05 536.1 331.15 537.6 331.9C539.1 332.65 540.33 333.55 542.1 333.4C543.87 333.25 546.43 332 548.2 331C549.97 330 551.2 329.02 552.7 327.4C554.2 325.78 555.7 321.55 557.2 321.3C558.7 321.05 559.93 323.88 561.7 325.9C563.47 327.92 565.78 332.65 567.8 333.4C569.82 334.15 571.8 329.8 573.8 330.4C575.8 331 577.8 335.15 579.8 337C581.8 338.85 584.03 341.1 585.8 341.5C587.57 341.9 589.13 339.35 590.4 339.4C591.67 339.45 592.15 343.05 593.4 341.8C594.65 340.55 596.15 333.7 597.9 331.9C599.65 330.1 602.13 332.25 603.9 331C605.67 329.75 606.98 326.27 608.5 324.4C610.02 322.53 611.25 320.57 613 319.8C614.75 319.03 617.25 318.78 619 319.8C620.75 320.82 621.98 324.63 623.5 325.9C625.02 327.17 626.33 326.15 628.1 327.4C629.87 328.65 632.1 332.4 634.1 333.4C636.1 334.4 638.1 334.3 640.1 333.4C642.1 332.5 644.33 328.6 646.1 328C647.87 327.4 648.93 328.5 650.7 329.8C652.47 331.1 655.7 334.8 656.7 335.8" stroke="#0000ff" stroke-width="2.9"/>
<path d="M391.2 299.5C391.72 300.02 393.25 303.48 394.3 302.6C395.35 301.72 396.43 297 397.5 294.2C398.57 291.4 399.65 287.55 400.7 285.8C401.75 284.05 402.75 283.98 403.8 283.7C404.85 283.42 406.12 284.82 407 284.1C407.88 283.38 407.98 280.82 409.1 279.4C410.22 277.98 412.3 275.42 413.7 275.6C415.1 275.78 416.15 278.63 417.5 280.5C418.85 282.37 420.22 284.17 421.8 286.8C423.38 289.43 425.42 294.53 427 296.3C428.58 298.07 430.07 295.82 431.3 297.4C432.53 298.98 433.18 302.82 434.4 305.8C435.62 308.78 437.18 312.13 438.6 315.3C440.02 318.47 441.48 322.52 442.9 324.8C444.32 327.08 445.7 329 447.1 329C448.5 329 449.9 326.2 451.3 324.8C452.7 323.4 453.92 321.13 455.5 320.6C457.08 320.07 459.03 321.08 460.8 321.6C462.57 322.12 464.33 322.82 466.1 323.7C467.87 324.58 469.65 326.72 471.4 326.9C473.15 327.08 475.03 325.68 476.6 324.8C478.17 323.92 478.68 322.48 480.8 321.6C482.92 320.72 487.18 320.55 489.3 319.5C491.42 318.45 492.1 317.05 493.5 315.3C494.9 313.55 496.12 312.17 497.7 309C499.28 305.83 501.23 300.52 503 296.3C504.77 292.08 506.72 287.57 508.3 283.7C509.88 279.83 510.92 276.62 512.5 273.1C514.08 269.58 516.38 265.03 517.8 262.6C519.22 260.17 519.7 259.77 521 258.5C522.3 257.23 524.08 255.42 525.6 255C527.12 254.58 528.6 254.48 530.1 256C531.6 257.52 532.85 260 534.6 264.1C536.35 268.2 538.58 275.08 540.6 280.6C542.62 286.12 544.68 291.67 546.7 297.2C548.72 302.73 550.7 309.27 552.7 313.8C554.7 318.33 556.7 321.88 558.7 324.4C560.7 326.92 562.43 328 564.7 328.9C566.97 329.8 569.78 329.8 572.3 329.8C574.82 329.8 577.55 329.05 579.8 328.9C582.05 328.75 583.78 330.07 585.8 328.9C587.82 327.73 589.88 323.57 591.9 321.9C593.92 320.23 595.9 318.9 597.9 318.9C599.9 318.9 601.88 319.73 603.9 321.9C605.92 324.07 607.98 327.72 610 331.9C612.02 336.08 614 341.98 616 347C618 352.02 619.98 358.48 622 362C624.02 365.52 626.33 368.1 628.1 368.1C629.87 368.1 631.1 362.52 632.6 362C634.1 361.48 635.6 363.23 637.1 365C638.6 366.77 639.83 371.08 641.6 372.6C643.37 374.12 645.68 373.6 647.7 374.1C649.72 374.6 652.2 374.85 653.7 375.6C655.2 376.35 656.2 378.1 656.7 378.6" stroke="#ff0000" stroke-width="2.9"/>
<path d="M390.8 330.19C391.22 330.17 392.47 329.99 393.3 330.1C394.13 330.2 394.97 330.79 395.8 330.82C396.63 330.84 397.47 330.23 398.3 330.24C399.13 330.26 399.97 330.82 400.8 330.92C401.63 331.01 402.47 330.89 403.3 330.83C404.13 330.77 404.97 330.53 405.8 330.58C406.63 330.63 407.47 331.19 408.3 331.12C409.13 331.05 409.97 330.31 410.8 330.17C411.63 330.03 412.47 330.38 413.3 330.26C414.13 330.14 414.97 329.63 415.8 329.44C416.63 329.24 417.47 329.14 418.3 329.08C419.13 329.02 419.97 329.08 420.8 329.09C421.63 329.11 422.47 329.25 423.3 329.19C424.13 329.13 424.97 328.73 425.8 328.74C426.63 328.74 427.47 329.01 428.3 329.24C429.13 329.47 429.97 329.84 430.8 330.11C431.63 330.39 432.47 330.77 433.3 330.89C434.13 331 434.97 330.81 435.8 330.83C436.63 330.85 437.47 330.81 438.3 331C439.13 331.19 439.97 331.94 440.8 331.96C441.63 331.97 442.47 331.02 443.3 331.07C444.13 331.13 444.97 332.15 445.8 332.28C446.63 332.4 447.47 331.89 448.3 331.83C449.13 331.76 449.97 331.84 450.8 331.89C451.63 331.93 452.47 331.97 453.3 332.08C454.13 332.2 454.97 332.33 455.8 332.55C456.63 332.76 457.47 333.33 458.3 333.39C459.13 333.44 459.97 332.83 460.8 332.86C461.63 332.89 462.47 333.42 463.3 333.57C464.13 333.71 464.97 333.77 465.8 333.72C466.63 333.68 467.47 333.36 468.3 333.31C469.13 333.26 469.97 333.52 470.8 333.42C471.63 333.33 472.47 332.87 473.3 332.74C474.13 332.61 474.97 332.65 475.8 332.64C476.63 332.64 477.47 332.63 478.3 332.72C479.13 332.81 479.97 333.18 480.8 333.19C481.63 333.21 482.47 332.9 483.3 332.79C484.13 332.69 484.97 332.56 485.8 332.59C486.63 332.62 487.47 332.94 488.3 332.99C489.13 333.05 489.97 332.94 490.8 332.91C491.63 332.88 492.47 332.71 493.3 332.8C494.13 332.9 494.97 333.37 495.8 333.47C496.63 333.58 497.47 333.52 498.3 333.44C499.13 333.35 499.97 332.97 500.8 332.97C501.63 332.97 502.47 333.36 503.3 333.44C504.13 333.52 504.97 333.37 505.8 333.46C506.63 333.55 507.47 333.89 508.3 333.96C509.13 334.02 509.97 334 510.8 333.86C511.63 333.72 512.47 333.14 513.3 333.1C514.13 333.06 514.97 333.76 515.8 333.62C516.63 333.49 517.47 332.5 518.3 332.28C519.13 332.07 519.97 332.31 520.8 332.33C521.63 332.36 522.47 332.59 523.3 332.43C524.13 332.28 524.97 331.55 525.8 331.4C526.63 331.24 527.47 331.62 528.3 331.49C529.13 331.37 529.97 330.71 530.8 330.65C531.63 330.58 532.47 331.05 533.3 331.09C534.13 331.14 534.97 331.02 535.8 330.9C536.63 330.78 537.47 330.45 538.3 330.38C539.13 330.32 539.97 330.63 540.8 330.49C541.63 330.35 542.47 329.68 543.3 329.56C544.13 329.44 544.97 329.79 545.8 329.76C546.63 329.73 547.47 329.49 548.3 329.38C549.13 329.27 549.97 329.2 550.8 329.1C551.63 329 552.47 328.73 553.3 328.76C554.13 328.8 554.97 329.19 555.8 329.31C556.63 329.44 557.47 329.57 558.3 329.52C559.13 329.48 559.97 329.07 560.8 329.05C561.63 329.02 562.47 329.42 563.3 329.36C564.13 329.31 564.97 328.69 565.8 328.72C566.63 328.76 567.47 329.43 568.3 329.58C569.13 329.73 569.97 329.51 570.8 329.6C571.63 329.69 572.47 330.04 573.3 330.1C574.13 330.17 574.97 330.1 575.8 329.99C576.63 329.87 577.47 329.51 578.3 329.43C579.13 329.34 579.97 329.43 580.8 329.47C581.63 329.52 582.47 329.81 583.3 329.7C584.13 329.59 584.97 328.9 585.8 328.82C586.63 328.74 587.47 329.24 588.3 329.24C589.13 329.23 589.97 328.88 590.8 328.78C591.63 328.67 592.47 328.66 593.3 328.61C594.13 328.55 594.97 328.33 595.8 328.43C596.63 328.52 597.47 329.15 598.3 329.17C599.13 329.18 599.97 328.55 600.8 328.52C601.63 328.48 602.47 328.8 603.3 328.95C604.13 329.1 604.97 329.19 605.8 329.41C606.63 329.63 607.47 330.24 608.3 330.27C609.13 330.31 609.97 329.6 610.8 329.61C611.63 329.62 612.47 330.15 613.3 330.34C614.13 330.53 614.97 330.57 615.8 330.75C616.63 330.93 617.47 331.29 618.3 331.44C619.13 331.59 619.97 331.56 620.8 331.68C621.63 331.79 622.47 332.1 623.3 332.12C624.13 332.14 624.97 331.76 625.8 331.8C626.63 331.84 627.47 332.21 628.3 332.35C629.13 332.5 629.97 332.45 630.8 332.67C631.63 332.89 632.47 333.44 633.3 333.69C634.13 333.93 634.97 334.18 635.8 334.16C636.63 334.14 637.47 333.61 638.3 333.58C639.13 333.55 639.97 333.95 640.8 334C641.63 334.04 642.47 333.92 643.3 333.85C644.13 333.79 644.97 333.65 645.8 333.62C646.63 333.59 647.47 333.69 648.3 333.69C649.13 333.68 649.97 333.7 650.8 333.58C651.63 333.45 652.47 333.14 653.3 332.95C654.13 332.75 654.97 332.45 655.8 332.4C656.63 332.36 657.88 332.62 658.3 332.67" stroke="#000" stroke-width="2.8"/>
</g>
<rect x="390.8" y="255.05" width="267.09999999999997" height="153.7" fill="none" stroke="#000" stroke-width="1.7"/>
<path d="M390.8 408.75 v-3 M390.8 255.05 v3 M424.19 408.75 v-1.8 M424.19 255.05 v1.8 M457.57 408.75 v-3 M457.57 255.05 v3 M490.96 408.75 v-1.8 M490.96 255.05 v1.8 M524.35 408.75 v-3 M524.35 255.05 v3 M557.74 408.75 v-1.8 M557.74 255.05 v1.8 M591.12 408.75 v-3 M591.12 255.05 v3 M624.51 408.75 v-1.8 M624.51 255.05 v1.8 M657.9 408.75 v-3 M657.9 255.05 v3 M390.8 255.05 h3 M657.9 255.05 h-3 M390.8 274.26 h1.8 M657.9 274.26 h-1.8 M390.8 293.48 h3 M657.9 293.48 h-3 M390.8 312.69 h1.8 M657.9 312.69 h-1.8 M390.8 331.9 h3 M657.9 331.9 h-3 M390.8 351.11 h1.8 M657.9 351.11 h-1.8 M390.8 370.32 h3 M657.9 370.32 h-3 M390.8 389.54 h1.8 M657.9 389.54 h-1.8 M390.8 408.75 h3 M657.9 408.75 h-3" stroke="#000" stroke-width="1.2" fill="none"/>
<path d="M419.5 350.3 H449.8" stroke="#ff0000" stroke-width="2.4"/>
<path d="M419.5 370.8 H449.8" stroke="#0000ff" stroke-width="2.4"/>
<path d="M419.5 390.7 H449.8" stroke="#000" stroke-width="2.4"/>
<g class="bold">
<text transform="translate(7.71 14.9) scale(0.93 1)" font-size="16.8" >(a)</text>
<text transform="translate(344.48 15) scale(0.96 1)" font-size="16.8" >(b)</text>
<text transform="translate(6.46 245.1) scale(0.94 1)" font-size="15.9" >(c)</text>
<text transform="translate(345.18 247.9) scale(1.02 1)" font-size="15.9" >(d)</text>
<text transform="translate(27.75 30) scale(1.05 1)" font-size="13.1" >0.4</text>
<text transform="translate(370.55 30) scale(1.05 1)" font-size="13.1" >0.4</text>
<text transform="translate(27.75 72.95) scale(1.05 1)" font-size="13.1" >0.2</text>
<text transform="translate(370.55 72.95) scale(1.05 1)" font-size="13.1" >0.2</text>
<text transform="translate(27.75 115.9) scale(1.05 1)" font-size="13.1" >0.0</text>
<text transform="translate(370.55 115.9) scale(1.05 1)" font-size="13.1" >0.0</text>
<text transform="translate(27.75 158.85) scale(1.05 1)" font-size="13.1" >0.2</text>
<text transform="translate(370.55 158.85) scale(1.05 1)" font-size="13.1" >0.2</text>
<text transform="translate(27.75 201.8) scale(1.05 1)" font-size="13.1" >0.4</text>
<text transform="translate(370.55 201.8) scale(1.05 1)" font-size="13.1" >0.4</text>
<rect x="18.8" y="154.25" width="7.7" height="1.2" fill="#1a1a1a"/>
<rect x="361.6" y="154.25" width="7.7" height="1.2" fill="#1a1a1a"/>
<rect x="18.8" y="197.2" width="7.7" height="1.2" fill="#1a1a1a"/>
<rect x="361.6" y="197.2" width="7.7" height="1.2" fill="#1a1a1a"/>
<text transform="translate(45.56 229.3) scale(0.95 1)" font-size="12.6" >Γ</text>
<text transform="translate(136.01 229.3) scale(1.06 1)" font-size="12.6" >M</text>
<text transform="translate(191.14 229.3) scale(0.97 1)" font-size="12.6" >K</text>
<text transform="translate(299.31 229.3) scale(0.95 1)" font-size="12.6" >Γ</text>
<text transform="translate(388.36 229.3) scale(0.95 1)" font-size="12.6" >Γ</text>
<text transform="translate(478.91 229.3) scale(1.06 1)" font-size="12.6" >M</text>
<text transform="translate(534.34 229.3) scale(0.97 1)" font-size="12.6" >K</text>
<text transform="translate(642.81 229.3) scale(0.95 1)" font-size="12.6" >Γ</text>
<text transform="translate(17 145.03) rotate(-90) scale(1.08 1)" font-size="11.9">Energy(eV)</text>
<text transform="translate(360 145.03) rotate(-90) scale(1.08 1)" font-size="11.9">Energy(eV)</text>
<text transform="translate(316.46 112.8) scale(1.11 1)" font-size="12.1" >Ω(k)</text>
<text transform="translate(659.76 113.2) scale(1.11 1)" font-size="12.1" >Ω(k)</text>
</g>
<text transform="translate(316.53 5.8) scale(1.12 1)" font-size="8.6" >max</text>
<text transform="translate(316.63 218.5) scale(1.12 1)" font-size="8.6" >min</text>
<text transform="translate(660.15 6.1) scale(1.08 1)" font-size="8.6" >max</text>
<text transform="translate(660.14 218.6) scale(1.1 1)" font-size="8.6" >min</text>
<text x="41.45" y="256.8" font-size="11.3" text-anchor="end">1000</text>
<text x="387.35" y="258.75" font-size="11.3" text-anchor="end">1000</text>
<text x="41.45" y="295.2" font-size="11.3" text-anchor="end">500</text>
<text x="387.35" y="297.18" font-size="11.3" text-anchor="end">500</text>
<text x="41.45" y="333.6" font-size="11.3" text-anchor="end">0</text>
<text x="387.35" y="335.6" font-size="11.3" text-anchor="end">0</text>
<text x="41.45" y="372" font-size="11.3" text-anchor="end">−500</text>
<text x="387.35" y="374.02" font-size="11.3" text-anchor="end">−500</text>
<text x="41.45" y="410.4" font-size="11.3" text-anchor="end">−1000</text>
<text x="387.35" y="412.45" font-size="11.3" text-anchor="end">−1000</text>
<text x="44.35" y="419.5" font-size="11.3" text-anchor="middle">−0.4</text>
<text x="390.8" y="421.1" font-size="11.3" text-anchor="middle">−0.4</text>
<text x="111.2" y="419.5" font-size="11.3" text-anchor="middle">−0.2</text>
<text x="457.57" y="421.1" font-size="11.3" text-anchor="middle">−0.2</text>
<text x="178.05" y="419.5" font-size="11.3" text-anchor="middle">0.0</text>
<text x="524.35" y="421.1" font-size="11.3" text-anchor="middle">0.0</text>
<text x="244.9" y="419.5" font-size="11.3" text-anchor="middle">0.2</text>
<text x="591.12" y="421.1" font-size="11.3" text-anchor="middle">0.2</text>
<text x="311.75" y="419.5" font-size="11.3" text-anchor="middle">0.4</text>
<text x="657.9" y="421.1" font-size="11.3" text-anchor="middle">0.4</text>
<text transform="translate(155.88 434) scale(1.11 1)" font-size="14.3" >E (eV)</text>
<text transform="translate(502.09 436.4) scale(1.1 1)" font-size="14.3" >E (eV)</text>
<text transform="translate(15.1 363.88) rotate(-90) scale(1 1)" font-size="14.5">σ</text>
<text transform="translate(15.1 350.3) rotate(-90) scale(1.03 1)" font-size="14.5">(S</text>
<text transform="translate(15.1 330.22) rotate(-90) scale(1.07 1)" font-size="14.5">cm</text>
<text transform="translate(7.7 308.3) rotate(-90)" font-size="8.6">-1</text>
<text transform="translate(15.1 300.14) rotate(-90) scale(1 1)" font-size="14.5">)</text>
<text transform="translate(361.1 366.18) rotate(-90) scale(1 1)" font-size="14.5">σ</text>
<text transform="translate(361.1 352.6) rotate(-90) scale(1.03 1)" font-size="14.5">(S</text>
<text transform="translate(361.1 332.52) rotate(-90) scale(1.07 1)" font-size="14.5">cm</text>
<text transform="translate(353.7 310.6) rotate(-90)" font-size="8.6">-1</text>
<text transform="translate(361.1 302.44) rotate(-90) scale(1 1)" font-size="14.5">)</text>
<text transform="translate(127.75 270.8) scale(1.12 1)" font-size="14.2" >ρ</text>
<text transform="translate(136.49 274.1) scale(1 1)" font-size="10.3" >zy</text>
<text transform="translate(127.75 295.3) scale(1.12 1)" font-size="14.2" >ρ</text>
<text transform="translate(136.49 298.6) scale(1 1)" font-size="10.3" >zx</text>
<text transform="translate(127.75 319.8) scale(1.12 1)" font-size="14.2" >ρ</text>
<text transform="translate(136.9 323.1) scale(1 1)" font-size="10.3" >yx</text>
<text transform="translate(452.69 355.5) scale(1.1 1)" font-size="12.3" >ρ</text>
<text transform="translate(460.3 358.8) scale(1 1)" font-size="9.6" >yx</text>
<text transform="translate(452.69 376) scale(1.1 1)" font-size="12.3" >ρ</text>
<text transform="translate(459.92 379.3) scale(1 1)" font-size="9.6" >zx</text>
<text transform="translate(452.69 395.9) scale(1.1 1)" font-size="12.3" >ρ</text>
<text transform="translate(459.92 399.2) scale(1 1)" font-size="9.6" >zy</text>
</svg>
</body></html>
